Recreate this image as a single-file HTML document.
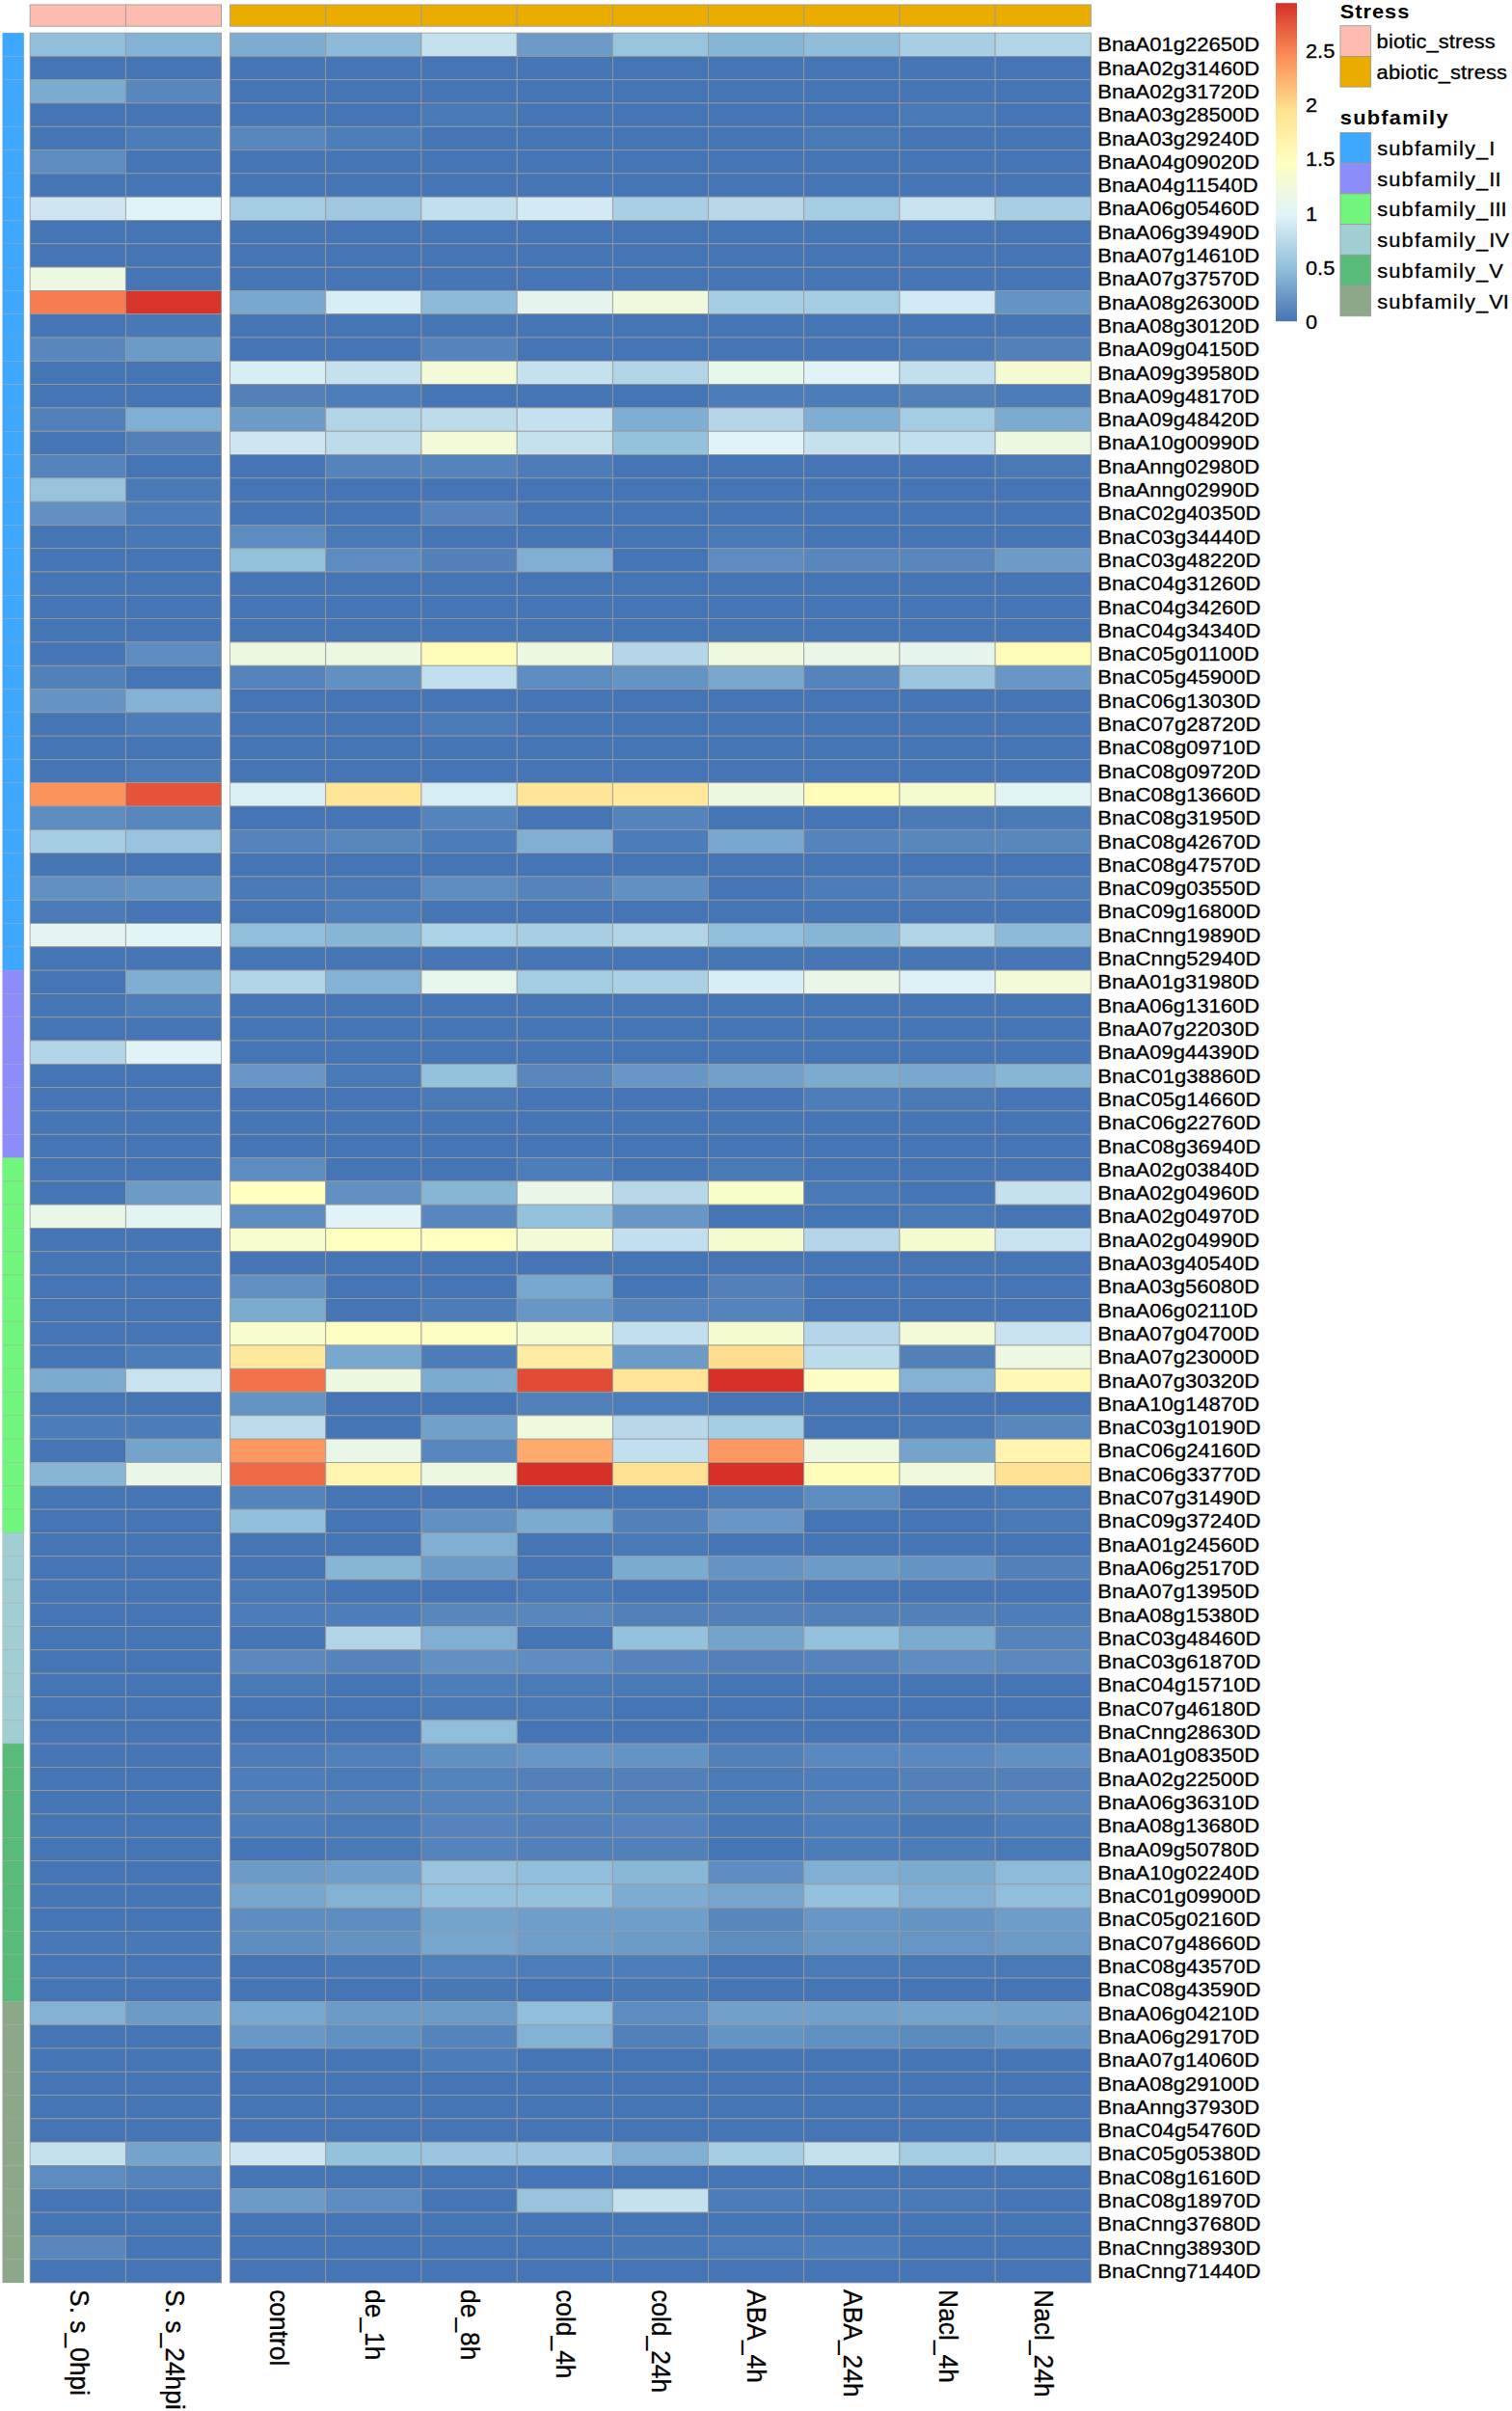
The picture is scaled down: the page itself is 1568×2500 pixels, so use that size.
<!DOCTYPE html>
<html lang="en"><head><meta charset="utf-8"><title>Heatmap</title>
<style>html,body{margin:0;padding:0;background:#fff}svg{display:block}</style></head>
<body>
<svg width="1568" height="2500" viewBox="0 0 1568 2500" font-family='"Liberation Sans", Arial, Helvetica, sans-serif' fill="#000">
<rect width="1568" height="2500" fill="#fff"/>
<g stroke="#999999" stroke-width="0.8">
<rect x="31.10" y="4.9" width="99.25" height="22.30" fill="#fdbcaf"/>
<rect x="130.35" y="4.9" width="99.25" height="22.30" fill="#fdbcaf"/>
<rect x="238.60" y="4.9" width="99.19" height="22.30" fill="#ebac00"/>
<rect x="337.79" y="4.9" width="99.19" height="22.30" fill="#ebac00"/>
<rect x="436.98" y="4.9" width="99.19" height="22.30" fill="#ebac00"/>
<rect x="536.17" y="4.9" width="99.19" height="22.30" fill="#ebac00"/>
<rect x="635.36" y="4.9" width="99.19" height="22.30" fill="#ebac00"/>
<rect x="734.54" y="4.9" width="99.19" height="22.30" fill="#ebac00"/>
<rect x="833.73" y="4.9" width="99.19" height="22.30" fill="#ebac00"/>
<rect x="932.92" y="4.9" width="99.19" height="22.30" fill="#ebac00"/>
<rect x="1032.11" y="4.9" width="99.19" height="22.30" fill="#ebac00"/>
</g>
<g stroke="#999999" stroke-opacity="0.45" stroke-width="0.6">
<rect x="2.7" y="34.10" width="22.10" height="24.301" fill="#3ea7ff"/>
<rect x="2.7" y="58.40" width="22.10" height="24.301" fill="#3ea7ff"/>
<rect x="2.7" y="82.70" width="22.10" height="24.301" fill="#3ea7ff"/>
<rect x="2.7" y="107.00" width="22.10" height="24.301" fill="#3ea7ff"/>
<rect x="2.7" y="131.30" width="22.10" height="24.301" fill="#3ea7ff"/>
<rect x="2.7" y="155.61" width="22.10" height="24.301" fill="#3ea7ff"/>
<rect x="2.7" y="179.91" width="22.10" height="24.301" fill="#3ea7ff"/>
<rect x="2.7" y="204.21" width="22.10" height="24.301" fill="#3ea7ff"/>
<rect x="2.7" y="228.51" width="22.10" height="24.301" fill="#3ea7ff"/>
<rect x="2.7" y="252.81" width="22.10" height="24.301" fill="#3ea7ff"/>
<rect x="2.7" y="277.11" width="22.10" height="24.301" fill="#3ea7ff"/>
<rect x="2.7" y="301.41" width="22.10" height="24.301" fill="#3ea7ff"/>
<rect x="2.7" y="325.71" width="22.10" height="24.301" fill="#3ea7ff"/>
<rect x="2.7" y="350.01" width="22.10" height="24.301" fill="#3ea7ff"/>
<rect x="2.7" y="374.31" width="22.10" height="24.301" fill="#3ea7ff"/>
<rect x="2.7" y="398.62" width="22.10" height="24.301" fill="#3ea7ff"/>
<rect x="2.7" y="422.92" width="22.10" height="24.301" fill="#3ea7ff"/>
<rect x="2.7" y="447.22" width="22.10" height="24.301" fill="#3ea7ff"/>
<rect x="2.7" y="471.52" width="22.10" height="24.301" fill="#3ea7ff"/>
<rect x="2.7" y="495.82" width="22.10" height="24.301" fill="#3ea7ff"/>
<rect x="2.7" y="520.12" width="22.10" height="24.301" fill="#3ea7ff"/>
<rect x="2.7" y="544.42" width="22.10" height="24.301" fill="#3ea7ff"/>
<rect x="2.7" y="568.72" width="22.10" height="24.301" fill="#3ea7ff"/>
<rect x="2.7" y="593.02" width="22.10" height="24.301" fill="#3ea7ff"/>
<rect x="2.7" y="617.33" width="22.10" height="24.301" fill="#3ea7ff"/>
<rect x="2.7" y="641.63" width="22.10" height="24.301" fill="#3ea7ff"/>
<rect x="2.7" y="665.93" width="22.10" height="24.301" fill="#3ea7ff"/>
<rect x="2.7" y="690.23" width="22.10" height="24.301" fill="#3ea7ff"/>
<rect x="2.7" y="714.53" width="22.10" height="24.301" fill="#3ea7ff"/>
<rect x="2.7" y="738.83" width="22.10" height="24.301" fill="#3ea7ff"/>
<rect x="2.7" y="763.13" width="22.10" height="24.301" fill="#3ea7ff"/>
<rect x="2.7" y="787.43" width="22.10" height="24.301" fill="#3ea7ff"/>
<rect x="2.7" y="811.73" width="22.10" height="24.301" fill="#3ea7ff"/>
<rect x="2.7" y="836.03" width="22.10" height="24.301" fill="#3ea7ff"/>
<rect x="2.7" y="860.34" width="22.10" height="24.301" fill="#3ea7ff"/>
<rect x="2.7" y="884.64" width="22.10" height="24.301" fill="#3ea7ff"/>
<rect x="2.7" y="908.94" width="22.10" height="24.301" fill="#3ea7ff"/>
<rect x="2.7" y="933.24" width="22.10" height="24.301" fill="#3ea7ff"/>
<rect x="2.7" y="957.54" width="22.10" height="24.301" fill="#3ea7ff"/>
<rect x="2.7" y="981.84" width="22.10" height="24.301" fill="#3ea7ff"/>
<rect x="2.7" y="1006.14" width="22.10" height="24.301" fill="#8c8cfa"/>
<rect x="2.7" y="1030.44" width="22.10" height="24.301" fill="#8c8cfa"/>
<rect x="2.7" y="1054.74" width="22.10" height="24.301" fill="#8c8cfa"/>
<rect x="2.7" y="1079.04" width="22.10" height="24.301" fill="#8c8cfa"/>
<rect x="2.7" y="1103.35" width="22.10" height="24.301" fill="#8c8cfa"/>
<rect x="2.7" y="1127.65" width="22.10" height="24.301" fill="#8c8cfa"/>
<rect x="2.7" y="1151.95" width="22.10" height="24.301" fill="#8c8cfa"/>
<rect x="2.7" y="1176.25" width="22.10" height="24.301" fill="#8c8cfa"/>
<rect x="2.7" y="1200.55" width="22.10" height="24.301" fill="#70f57d"/>
<rect x="2.7" y="1224.85" width="22.10" height="24.301" fill="#70f57d"/>
<rect x="2.7" y="1249.15" width="22.10" height="24.301" fill="#70f57d"/>
<rect x="2.7" y="1273.45" width="22.10" height="24.301" fill="#70f57d"/>
<rect x="2.7" y="1297.75" width="22.10" height="24.301" fill="#70f57d"/>
<rect x="2.7" y="1322.06" width="22.10" height="24.301" fill="#70f57d"/>
<rect x="2.7" y="1346.36" width="22.10" height="24.301" fill="#70f57d"/>
<rect x="2.7" y="1370.66" width="22.10" height="24.301" fill="#70f57d"/>
<rect x="2.7" y="1394.96" width="22.10" height="24.301" fill="#70f57d"/>
<rect x="2.7" y="1419.26" width="22.10" height="24.301" fill="#70f57d"/>
<rect x="2.7" y="1443.56" width="22.10" height="24.301" fill="#70f57d"/>
<rect x="2.7" y="1467.86" width="22.10" height="24.301" fill="#70f57d"/>
<rect x="2.7" y="1492.16" width="22.10" height="24.301" fill="#70f57d"/>
<rect x="2.7" y="1516.46" width="22.10" height="24.301" fill="#70f57d"/>
<rect x="2.7" y="1540.76" width="22.10" height="24.301" fill="#70f57d"/>
<rect x="2.7" y="1565.07" width="22.10" height="24.301" fill="#70f57d"/>
<rect x="2.7" y="1589.37" width="22.10" height="24.301" fill="#a0ced3"/>
<rect x="2.7" y="1613.67" width="22.10" height="24.301" fill="#a0ced3"/>
<rect x="2.7" y="1637.97" width="22.10" height="24.301" fill="#a0ced3"/>
<rect x="2.7" y="1662.27" width="22.10" height="24.301" fill="#a0ced3"/>
<rect x="2.7" y="1686.57" width="22.10" height="24.301" fill="#a0ced3"/>
<rect x="2.7" y="1710.87" width="22.10" height="24.301" fill="#a0ced3"/>
<rect x="2.7" y="1735.17" width="22.10" height="24.301" fill="#a0ced3"/>
<rect x="2.7" y="1759.47" width="22.10" height="24.301" fill="#a0ced3"/>
<rect x="2.7" y="1783.77" width="22.10" height="24.301" fill="#a0ced3"/>
<rect x="2.7" y="1808.08" width="22.10" height="24.301" fill="#58bb7a"/>
<rect x="2.7" y="1832.38" width="22.10" height="24.301" fill="#58bb7a"/>
<rect x="2.7" y="1856.68" width="22.10" height="24.301" fill="#58bb7a"/>
<rect x="2.7" y="1880.98" width="22.10" height="24.301" fill="#58bb7a"/>
<rect x="2.7" y="1905.28" width="22.10" height="24.301" fill="#58bb7a"/>
<rect x="2.7" y="1929.58" width="22.10" height="24.301" fill="#58bb7a"/>
<rect x="2.7" y="1953.88" width="22.10" height="24.301" fill="#58bb7a"/>
<rect x="2.7" y="1978.18" width="22.10" height="24.301" fill="#58bb7a"/>
<rect x="2.7" y="2002.48" width="22.10" height="24.301" fill="#58bb7a"/>
<rect x="2.7" y="2026.79" width="22.10" height="24.301" fill="#58bb7a"/>
<rect x="2.7" y="2051.09" width="22.10" height="24.301" fill="#58bb7a"/>
<rect x="2.7" y="2075.39" width="22.10" height="24.301" fill="#8ca889"/>
<rect x="2.7" y="2099.69" width="22.10" height="24.301" fill="#8ca889"/>
<rect x="2.7" y="2123.99" width="22.10" height="24.301" fill="#8ca889"/>
<rect x="2.7" y="2148.29" width="22.10" height="24.301" fill="#8ca889"/>
<rect x="2.7" y="2172.59" width="22.10" height="24.301" fill="#8ca889"/>
<rect x="2.7" y="2196.89" width="22.10" height="24.301" fill="#8ca889"/>
<rect x="2.7" y="2221.19" width="22.10" height="24.301" fill="#8ca889"/>
<rect x="2.7" y="2245.49" width="22.10" height="24.301" fill="#8ca889"/>
<rect x="2.7" y="2269.80" width="22.10" height="24.301" fill="#8ca889"/>
<rect x="2.7" y="2294.10" width="22.10" height="24.301" fill="#8ca889"/>
<rect x="2.7" y="2318.40" width="22.10" height="24.301" fill="#8ca889"/>
<rect x="2.7" y="2342.70" width="22.10" height="24.301" fill="#8ca889"/>
</g>
<g stroke="#999999" stroke-width="0.8">
<rect x="31.10" y="34.10" width="99.25" height="24.301" fill="#90bedb"/>
<rect x="130.35" y="34.10" width="99.25" height="24.301" fill="#84b2d4"/>
<rect x="238.60" y="34.10" width="99.19" height="24.301" fill="#7eacd1"/>
<rect x="337.79" y="34.10" width="99.19" height="24.301" fill="#8cbad8"/>
<rect x="436.98" y="34.10" width="99.19" height="24.301" fill="#c5e1ee"/>
<rect x="536.17" y="34.10" width="99.19" height="24.301" fill="#6c9bc8"/>
<rect x="635.36" y="34.10" width="99.19" height="24.301" fill="#97c3dd"/>
<rect x="734.54" y="34.10" width="99.19" height="24.301" fill="#87b5d6"/>
<rect x="833.73" y="34.10" width="99.19" height="24.301" fill="#8fbdda"/>
<rect x="932.92" y="34.10" width="99.19" height="24.301" fill="#a7cee3"/>
<rect x="1032.11" y="34.10" width="99.19" height="24.301" fill="#b1d4e7"/>
<rect x="31.10" y="58.40" width="99.25" height="24.301" fill="#4575b4"/>
<rect x="130.35" y="58.40" width="99.25" height="24.301" fill="#4575b4"/>
<rect x="238.60" y="58.40" width="99.19" height="24.301" fill="#4575b4"/>
<rect x="337.79" y="58.40" width="99.19" height="24.301" fill="#4575b4"/>
<rect x="436.98" y="58.40" width="99.19" height="24.301" fill="#4575b4"/>
<rect x="536.17" y="58.40" width="99.19" height="24.301" fill="#4575b4"/>
<rect x="635.36" y="58.40" width="99.19" height="24.301" fill="#4575b4"/>
<rect x="734.54" y="58.40" width="99.19" height="24.301" fill="#4575b4"/>
<rect x="833.73" y="58.40" width="99.19" height="24.301" fill="#4575b4"/>
<rect x="932.92" y="58.40" width="99.19" height="24.301" fill="#4575b4"/>
<rect x="1032.11" y="58.40" width="99.19" height="24.301" fill="#4575b4"/>
<rect x="31.10" y="82.70" width="99.25" height="24.301" fill="#7cabd0"/>
<rect x="130.35" y="82.70" width="99.25" height="24.301" fill="#5887be"/>
<rect x="238.60" y="82.70" width="99.19" height="24.301" fill="#4575b4"/>
<rect x="337.79" y="82.70" width="99.19" height="24.301" fill="#4575b4"/>
<rect x="436.98" y="82.70" width="99.19" height="24.301" fill="#4575b4"/>
<rect x="536.17" y="82.70" width="99.19" height="24.301" fill="#4575b4"/>
<rect x="635.36" y="82.70" width="99.19" height="24.301" fill="#4575b4"/>
<rect x="734.54" y="82.70" width="99.19" height="24.301" fill="#4575b4"/>
<rect x="833.73" y="82.70" width="99.19" height="24.301" fill="#4575b4"/>
<rect x="932.92" y="82.70" width="99.19" height="24.301" fill="#4575b4"/>
<rect x="1032.11" y="82.70" width="99.19" height="24.301" fill="#4575b4"/>
<rect x="31.10" y="107.00" width="99.25" height="24.301" fill="#4575b4"/>
<rect x="130.35" y="107.00" width="99.25" height="24.301" fill="#4575b4"/>
<rect x="238.60" y="107.00" width="99.19" height="24.301" fill="#4575b4"/>
<rect x="337.79" y="107.00" width="99.19" height="24.301" fill="#4575b4"/>
<rect x="436.98" y="107.00" width="99.19" height="24.301" fill="#4a7ab6"/>
<rect x="536.17" y="107.00" width="99.19" height="24.301" fill="#4575b4"/>
<rect x="635.36" y="107.00" width="99.19" height="24.301" fill="#4575b4"/>
<rect x="734.54" y="107.00" width="99.19" height="24.301" fill="#4575b4"/>
<rect x="833.73" y="107.00" width="99.19" height="24.301" fill="#4575b4"/>
<rect x="932.92" y="107.00" width="99.19" height="24.301" fill="#4a7ab6"/>
<rect x="1032.11" y="107.00" width="99.19" height="24.301" fill="#4575b4"/>
<rect x="31.10" y="131.30" width="99.25" height="24.301" fill="#4575b4"/>
<rect x="130.35" y="131.30" width="99.25" height="24.301" fill="#4d7db8"/>
<rect x="238.60" y="131.30" width="99.19" height="24.301" fill="#5887be"/>
<rect x="337.79" y="131.30" width="99.19" height="24.301" fill="#4e7eb9"/>
<rect x="436.98" y="131.30" width="99.19" height="24.301" fill="#4575b4"/>
<rect x="536.17" y="131.30" width="99.19" height="24.301" fill="#4575b4"/>
<rect x="635.36" y="131.30" width="99.19" height="24.301" fill="#4575b4"/>
<rect x="734.54" y="131.30" width="99.19" height="24.301" fill="#4575b4"/>
<rect x="833.73" y="131.30" width="99.19" height="24.301" fill="#4a7ab6"/>
<rect x="932.92" y="131.30" width="99.19" height="24.301" fill="#4575b4"/>
<rect x="1032.11" y="131.30" width="99.19" height="24.301" fill="#4575b4"/>
<rect x="31.10" y="155.61" width="99.25" height="24.301" fill="#5d8cc0"/>
<rect x="130.35" y="155.61" width="99.25" height="24.301" fill="#4575b4"/>
<rect x="238.60" y="155.61" width="99.19" height="24.301" fill="#4575b4"/>
<rect x="337.79" y="155.61" width="99.19" height="24.301" fill="#4575b4"/>
<rect x="436.98" y="155.61" width="99.19" height="24.301" fill="#4575b4"/>
<rect x="536.17" y="155.61" width="99.19" height="24.301" fill="#4575b4"/>
<rect x="635.36" y="155.61" width="99.19" height="24.301" fill="#4575b4"/>
<rect x="734.54" y="155.61" width="99.19" height="24.301" fill="#4575b4"/>
<rect x="833.73" y="155.61" width="99.19" height="24.301" fill="#4575b4"/>
<rect x="932.92" y="155.61" width="99.19" height="24.301" fill="#4575b4"/>
<rect x="1032.11" y="155.61" width="99.19" height="24.301" fill="#4575b4"/>
<rect x="31.10" y="179.91" width="99.25" height="24.301" fill="#4575b4"/>
<rect x="130.35" y="179.91" width="99.25" height="24.301" fill="#4575b4"/>
<rect x="238.60" y="179.91" width="99.19" height="24.301" fill="#4575b4"/>
<rect x="337.79" y="179.91" width="99.19" height="24.301" fill="#4575b4"/>
<rect x="436.98" y="179.91" width="99.19" height="24.301" fill="#4575b4"/>
<rect x="536.17" y="179.91" width="99.19" height="24.301" fill="#4575b4"/>
<rect x="635.36" y="179.91" width="99.19" height="24.301" fill="#4575b4"/>
<rect x="734.54" y="179.91" width="99.19" height="24.301" fill="#4575b4"/>
<rect x="833.73" y="179.91" width="99.19" height="24.301" fill="#4575b4"/>
<rect x="932.92" y="179.91" width="99.19" height="24.301" fill="#4575b4"/>
<rect x="1032.11" y="179.91" width="99.19" height="24.301" fill="#4575b4"/>
<rect x="31.10" y="204.21" width="99.25" height="24.301" fill="#cde6f1"/>
<rect x="130.35" y="204.21" width="99.25" height="24.301" fill="#e1f3f6"/>
<rect x="238.60" y="204.21" width="99.19" height="24.301" fill="#a4cce2"/>
<rect x="337.79" y="204.21" width="99.19" height="24.301" fill="#9fc8e0"/>
<rect x="436.98" y="204.21" width="99.19" height="24.301" fill="#c1dfed"/>
<rect x="536.17" y="204.21" width="99.19" height="24.301" fill="#d2eaf3"/>
<rect x="635.36" y="204.21" width="99.19" height="24.301" fill="#a9cfe4"/>
<rect x="734.54" y="204.21" width="99.19" height="24.301" fill="#b8d8e9"/>
<rect x="833.73" y="204.21" width="99.19" height="24.301" fill="#a4cce2"/>
<rect x="932.92" y="204.21" width="99.19" height="24.301" fill="#c8e3ef"/>
<rect x="1032.11" y="204.21" width="99.19" height="24.301" fill="#a7cee3"/>
<rect x="31.10" y="228.51" width="99.25" height="24.301" fill="#4575b4"/>
<rect x="130.35" y="228.51" width="99.25" height="24.301" fill="#4575b4"/>
<rect x="238.60" y="228.51" width="99.19" height="24.301" fill="#4575b4"/>
<rect x="337.79" y="228.51" width="99.19" height="24.301" fill="#4575b4"/>
<rect x="436.98" y="228.51" width="99.19" height="24.301" fill="#4575b4"/>
<rect x="536.17" y="228.51" width="99.19" height="24.301" fill="#4575b4"/>
<rect x="635.36" y="228.51" width="99.19" height="24.301" fill="#4575b4"/>
<rect x="734.54" y="228.51" width="99.19" height="24.301" fill="#4575b4"/>
<rect x="833.73" y="228.51" width="99.19" height="24.301" fill="#4575b4"/>
<rect x="932.92" y="228.51" width="99.19" height="24.301" fill="#4575b4"/>
<rect x="1032.11" y="228.51" width="99.19" height="24.301" fill="#4575b4"/>
<rect x="31.10" y="252.81" width="99.25" height="24.301" fill="#4575b4"/>
<rect x="130.35" y="252.81" width="99.25" height="24.301" fill="#4575b4"/>
<rect x="238.60" y="252.81" width="99.19" height="24.301" fill="#4575b4"/>
<rect x="337.79" y="252.81" width="99.19" height="24.301" fill="#4575b4"/>
<rect x="436.98" y="252.81" width="99.19" height="24.301" fill="#4575b4"/>
<rect x="536.17" y="252.81" width="99.19" height="24.301" fill="#4575b4"/>
<rect x="635.36" y="252.81" width="99.19" height="24.301" fill="#4575b4"/>
<rect x="734.54" y="252.81" width="99.19" height="24.301" fill="#4575b4"/>
<rect x="833.73" y="252.81" width="99.19" height="24.301" fill="#4575b4"/>
<rect x="932.92" y="252.81" width="99.19" height="24.301" fill="#4575b4"/>
<rect x="1032.11" y="252.81" width="99.19" height="24.301" fill="#4575b4"/>
<rect x="31.10" y="277.11" width="99.25" height="24.301" fill="#ecf8e2"/>
<rect x="130.35" y="277.11" width="99.25" height="24.301" fill="#4575b4"/>
<rect x="238.60" y="277.11" width="99.19" height="24.301" fill="#4575b4"/>
<rect x="337.79" y="277.11" width="99.19" height="24.301" fill="#4575b4"/>
<rect x="436.98" y="277.11" width="99.19" height="24.301" fill="#4575b4"/>
<rect x="536.17" y="277.11" width="99.19" height="24.301" fill="#4575b4"/>
<rect x="635.36" y="277.11" width="99.19" height="24.301" fill="#4575b4"/>
<rect x="734.54" y="277.11" width="99.19" height="24.301" fill="#4575b4"/>
<rect x="833.73" y="277.11" width="99.19" height="24.301" fill="#4575b4"/>
<rect x="932.92" y="277.11" width="99.19" height="24.301" fill="#4575b4"/>
<rect x="1032.11" y="277.11" width="99.19" height="24.301" fill="#4575b4"/>
<rect x="31.10" y="301.41" width="99.25" height="24.301" fill="#f67d50"/>
<rect x="130.35" y="301.41" width="99.25" height="24.301" fill="#d93429"/>
<rect x="238.60" y="301.41" width="99.19" height="24.301" fill="#79a8cf"/>
<rect x="337.79" y="301.41" width="99.19" height="24.301" fill="#d8eef5"/>
<rect x="436.98" y="301.41" width="99.19" height="24.301" fill="#8cbad8"/>
<rect x="536.17" y="301.41" width="99.19" height="24.301" fill="#e5f5ee"/>
<rect x="635.36" y="301.41" width="99.19" height="24.301" fill="#eff9dc"/>
<rect x="734.54" y="301.41" width="99.19" height="24.301" fill="#a4cce2"/>
<rect x="833.73" y="301.41" width="99.19" height="24.301" fill="#a4cce2"/>
<rect x="932.92" y="301.41" width="99.19" height="24.301" fill="#d2eaf3"/>
<rect x="1032.11" y="301.41" width="99.19" height="24.301" fill="#6494c4"/>
<rect x="31.10" y="325.71" width="99.25" height="24.301" fill="#4575b4"/>
<rect x="130.35" y="325.71" width="99.25" height="24.301" fill="#4878b6"/>
<rect x="238.60" y="325.71" width="99.19" height="24.301" fill="#4575b4"/>
<rect x="337.79" y="325.71" width="99.19" height="24.301" fill="#4575b4"/>
<rect x="436.98" y="325.71" width="99.19" height="24.301" fill="#4575b4"/>
<rect x="536.17" y="325.71" width="99.19" height="24.301" fill="#4575b4"/>
<rect x="635.36" y="325.71" width="99.19" height="24.301" fill="#4575b4"/>
<rect x="734.54" y="325.71" width="99.19" height="24.301" fill="#4575b4"/>
<rect x="833.73" y="325.71" width="99.19" height="24.301" fill="#4575b4"/>
<rect x="932.92" y="325.71" width="99.19" height="24.301" fill="#4575b4"/>
<rect x="1032.11" y="325.71" width="99.19" height="24.301" fill="#4575b4"/>
<rect x="31.10" y="350.01" width="99.25" height="24.301" fill="#5887be"/>
<rect x="130.35" y="350.01" width="99.25" height="24.301" fill="#6c9bc8"/>
<rect x="238.60" y="350.01" width="99.19" height="24.301" fill="#4575b4"/>
<rect x="337.79" y="350.01" width="99.19" height="24.301" fill="#4575b4"/>
<rect x="436.98" y="350.01" width="99.19" height="24.301" fill="#5584bc"/>
<rect x="536.17" y="350.01" width="99.19" height="24.301" fill="#4575b4"/>
<rect x="635.36" y="350.01" width="99.19" height="24.301" fill="#4575b4"/>
<rect x="734.54" y="350.01" width="99.19" height="24.301" fill="#4575b4"/>
<rect x="833.73" y="350.01" width="99.19" height="24.301" fill="#4575b4"/>
<rect x="932.92" y="350.01" width="99.19" height="24.301" fill="#4a7ab6"/>
<rect x="1032.11" y="350.01" width="99.19" height="24.301" fill="#5281ba"/>
<rect x="31.10" y="374.31" width="99.25" height="24.301" fill="#4575b4"/>
<rect x="130.35" y="374.31" width="99.25" height="24.301" fill="#4575b4"/>
<rect x="238.60" y="374.31" width="99.19" height="24.301" fill="#d8eef5"/>
<rect x="337.79" y="374.31" width="99.19" height="24.301" fill="#c5e1ee"/>
<rect x="436.98" y="374.31" width="99.19" height="24.301" fill="#f2fad7"/>
<rect x="536.17" y="374.31" width="99.19" height="24.301" fill="#c5e1ee"/>
<rect x="635.36" y="374.31" width="99.19" height="24.301" fill="#b1d4e7"/>
<rect x="734.54" y="374.31" width="99.19" height="24.301" fill="#e7f6eb"/>
<rect x="833.73" y="374.31" width="99.19" height="24.301" fill="#e1f3f6"/>
<rect x="932.92" y="374.31" width="99.19" height="24.301" fill="#c1dfed"/>
<rect x="1032.11" y="374.31" width="99.19" height="24.301" fill="#f4fbd3"/>
<rect x="31.10" y="398.62" width="99.25" height="24.301" fill="#4575b4"/>
<rect x="130.35" y="398.62" width="99.25" height="24.301" fill="#4575b4"/>
<rect x="238.60" y="398.62" width="99.19" height="24.301" fill="#5281ba"/>
<rect x="337.79" y="398.62" width="99.19" height="24.301" fill="#4e7eb9"/>
<rect x="436.98" y="398.62" width="99.19" height="24.301" fill="#4575b4"/>
<rect x="536.17" y="398.62" width="99.19" height="24.301" fill="#4575b4"/>
<rect x="635.36" y="398.62" width="99.19" height="24.301" fill="#4575b4"/>
<rect x="734.54" y="398.62" width="99.19" height="24.301" fill="#4d7db8"/>
<rect x="833.73" y="398.62" width="99.19" height="24.301" fill="#4d7db8"/>
<rect x="932.92" y="398.62" width="99.19" height="24.301" fill="#5281ba"/>
<rect x="1032.11" y="398.62" width="99.19" height="24.301" fill="#4d7db8"/>
<rect x="31.10" y="422.92" width="99.25" height="24.301" fill="#5281ba"/>
<rect x="130.35" y="422.92" width="99.25" height="24.301" fill="#81afd3"/>
<rect x="238.60" y="422.92" width="99.19" height="24.301" fill="#6c9bc8"/>
<rect x="337.79" y="422.92" width="99.19" height="24.301" fill="#b1d4e7"/>
<rect x="436.98" y="422.92" width="99.19" height="24.301" fill="#bddceb"/>
<rect x="536.17" y="422.92" width="99.19" height="24.301" fill="#c5e1ee"/>
<rect x="635.36" y="422.92" width="99.19" height="24.301" fill="#7faed2"/>
<rect x="734.54" y="422.92" width="99.19" height="24.301" fill="#b4d6e8"/>
<rect x="833.73" y="422.92" width="99.19" height="24.301" fill="#7faed2"/>
<rect x="932.92" y="422.92" width="99.19" height="24.301" fill="#a4cce2"/>
<rect x="1032.11" y="422.92" width="99.19" height="24.301" fill="#7cabd0"/>
<rect x="31.10" y="447.22" width="99.25" height="24.301" fill="#4575b4"/>
<rect x="130.35" y="447.22" width="99.25" height="24.301" fill="#5281ba"/>
<rect x="238.60" y="447.22" width="99.19" height="24.301" fill="#cde6f1"/>
<rect x="337.79" y="447.22" width="99.19" height="24.301" fill="#bddceb"/>
<rect x="436.98" y="447.22" width="99.19" height="24.301" fill="#f2fad7"/>
<rect x="536.17" y="447.22" width="99.19" height="24.301" fill="#c5e1ee"/>
<rect x="635.36" y="447.22" width="99.19" height="24.301" fill="#94c1dc"/>
<rect x="734.54" y="447.22" width="99.19" height="24.301" fill="#e1f3f6"/>
<rect x="833.73" y="447.22" width="99.19" height="24.301" fill="#c5e1ee"/>
<rect x="932.92" y="447.22" width="99.19" height="24.301" fill="#c1dfed"/>
<rect x="1032.11" y="447.22" width="99.19" height="24.301" fill="#ecf8e2"/>
<rect x="31.10" y="471.52" width="99.25" height="24.301" fill="#5584bc"/>
<rect x="130.35" y="471.52" width="99.25" height="24.301" fill="#4575b4"/>
<rect x="238.60" y="471.52" width="99.19" height="24.301" fill="#4575b4"/>
<rect x="337.79" y="471.52" width="99.19" height="24.301" fill="#5584bc"/>
<rect x="436.98" y="471.52" width="99.19" height="24.301" fill="#5584bc"/>
<rect x="536.17" y="471.52" width="99.19" height="24.301" fill="#4d7db8"/>
<rect x="635.36" y="471.52" width="99.19" height="24.301" fill="#4575b4"/>
<rect x="734.54" y="471.52" width="99.19" height="24.301" fill="#4575b4"/>
<rect x="833.73" y="471.52" width="99.19" height="24.301" fill="#4575b4"/>
<rect x="932.92" y="471.52" width="99.19" height="24.301" fill="#4575b4"/>
<rect x="1032.11" y="471.52" width="99.19" height="24.301" fill="#4a7ab6"/>
<rect x="31.10" y="495.82" width="99.25" height="24.301" fill="#97c3dd"/>
<rect x="130.35" y="495.82" width="99.25" height="24.301" fill="#4a7ab6"/>
<rect x="238.60" y="495.82" width="99.19" height="24.301" fill="#4575b4"/>
<rect x="337.79" y="495.82" width="99.19" height="24.301" fill="#4575b4"/>
<rect x="436.98" y="495.82" width="99.19" height="24.301" fill="#4575b4"/>
<rect x="536.17" y="495.82" width="99.19" height="24.301" fill="#4575b4"/>
<rect x="635.36" y="495.82" width="99.19" height="24.301" fill="#4575b4"/>
<rect x="734.54" y="495.82" width="99.19" height="24.301" fill="#4575b4"/>
<rect x="833.73" y="495.82" width="99.19" height="24.301" fill="#4575b4"/>
<rect x="932.92" y="495.82" width="99.19" height="24.301" fill="#4575b4"/>
<rect x="1032.11" y="495.82" width="99.19" height="24.301" fill="#4575b4"/>
<rect x="31.10" y="520.12" width="99.25" height="24.301" fill="#6191c3"/>
<rect x="130.35" y="520.12" width="99.25" height="24.301" fill="#4d7db8"/>
<rect x="238.60" y="520.12" width="99.19" height="24.301" fill="#4575b4"/>
<rect x="337.79" y="520.12" width="99.19" height="24.301" fill="#4575b4"/>
<rect x="436.98" y="520.12" width="99.19" height="24.301" fill="#5584bc"/>
<rect x="536.17" y="520.12" width="99.19" height="24.301" fill="#4575b4"/>
<rect x="635.36" y="520.12" width="99.19" height="24.301" fill="#4575b4"/>
<rect x="734.54" y="520.12" width="99.19" height="24.301" fill="#4575b4"/>
<rect x="833.73" y="520.12" width="99.19" height="24.301" fill="#4575b4"/>
<rect x="932.92" y="520.12" width="99.19" height="24.301" fill="#4575b4"/>
<rect x="1032.11" y="520.12" width="99.19" height="24.301" fill="#4575b4"/>
<rect x="31.10" y="544.42" width="99.25" height="24.301" fill="#4575b4"/>
<rect x="130.35" y="544.42" width="99.25" height="24.301" fill="#4878b6"/>
<rect x="238.60" y="544.42" width="99.19" height="24.301" fill="#5d8cc0"/>
<rect x="337.79" y="544.42" width="99.19" height="24.301" fill="#4a7ab6"/>
<rect x="436.98" y="544.42" width="99.19" height="24.301" fill="#4575b4"/>
<rect x="536.17" y="544.42" width="99.19" height="24.301" fill="#4575b4"/>
<rect x="635.36" y="544.42" width="99.19" height="24.301" fill="#4575b4"/>
<rect x="734.54" y="544.42" width="99.19" height="24.301" fill="#4a7ab6"/>
<rect x="833.73" y="544.42" width="99.19" height="24.301" fill="#4575b4"/>
<rect x="932.92" y="544.42" width="99.19" height="24.301" fill="#4575b4"/>
<rect x="1032.11" y="544.42" width="99.19" height="24.301" fill="#4575b4"/>
<rect x="31.10" y="568.72" width="99.25" height="24.301" fill="#4575b4"/>
<rect x="130.35" y="568.72" width="99.25" height="24.301" fill="#4575b4"/>
<rect x="238.60" y="568.72" width="99.19" height="24.301" fill="#94c1dc"/>
<rect x="337.79" y="568.72" width="99.19" height="24.301" fill="#5d8cc0"/>
<rect x="436.98" y="568.72" width="99.19" height="24.301" fill="#5281ba"/>
<rect x="536.17" y="568.72" width="99.19" height="24.301" fill="#81afd3"/>
<rect x="635.36" y="568.72" width="99.19" height="24.301" fill="#4575b4"/>
<rect x="734.54" y="568.72" width="99.19" height="24.301" fill="#5d8cc0"/>
<rect x="833.73" y="568.72" width="99.19" height="24.301" fill="#5887be"/>
<rect x="932.92" y="568.72" width="99.19" height="24.301" fill="#5887be"/>
<rect x="1032.11" y="568.72" width="99.19" height="24.301" fill="#6c9bc8"/>
<rect x="31.10" y="593.02" width="99.25" height="24.301" fill="#4575b4"/>
<rect x="130.35" y="593.02" width="99.25" height="24.301" fill="#4575b4"/>
<rect x="238.60" y="593.02" width="99.19" height="24.301" fill="#4575b4"/>
<rect x="337.79" y="593.02" width="99.19" height="24.301" fill="#4575b4"/>
<rect x="436.98" y="593.02" width="99.19" height="24.301" fill="#4575b4"/>
<rect x="536.17" y="593.02" width="99.19" height="24.301" fill="#4575b4"/>
<rect x="635.36" y="593.02" width="99.19" height="24.301" fill="#4575b4"/>
<rect x="734.54" y="593.02" width="99.19" height="24.301" fill="#4575b4"/>
<rect x="833.73" y="593.02" width="99.19" height="24.301" fill="#4575b4"/>
<rect x="932.92" y="593.02" width="99.19" height="24.301" fill="#4575b4"/>
<rect x="1032.11" y="593.02" width="99.19" height="24.301" fill="#4575b4"/>
<rect x="31.10" y="617.33" width="99.25" height="24.301" fill="#4575b4"/>
<rect x="130.35" y="617.33" width="99.25" height="24.301" fill="#4575b4"/>
<rect x="238.60" y="617.33" width="99.19" height="24.301" fill="#4575b4"/>
<rect x="337.79" y="617.33" width="99.19" height="24.301" fill="#4575b4"/>
<rect x="436.98" y="617.33" width="99.19" height="24.301" fill="#4575b4"/>
<rect x="536.17" y="617.33" width="99.19" height="24.301" fill="#4575b4"/>
<rect x="635.36" y="617.33" width="99.19" height="24.301" fill="#4575b4"/>
<rect x="734.54" y="617.33" width="99.19" height="24.301" fill="#4575b4"/>
<rect x="833.73" y="617.33" width="99.19" height="24.301" fill="#4575b4"/>
<rect x="932.92" y="617.33" width="99.19" height="24.301" fill="#4575b4"/>
<rect x="1032.11" y="617.33" width="99.19" height="24.301" fill="#4575b4"/>
<rect x="31.10" y="641.63" width="99.25" height="24.301" fill="#4575b4"/>
<rect x="130.35" y="641.63" width="99.25" height="24.301" fill="#4575b4"/>
<rect x="238.60" y="641.63" width="99.19" height="24.301" fill="#4575b4"/>
<rect x="337.79" y="641.63" width="99.19" height="24.301" fill="#4575b4"/>
<rect x="436.98" y="641.63" width="99.19" height="24.301" fill="#4575b4"/>
<rect x="536.17" y="641.63" width="99.19" height="24.301" fill="#4575b4"/>
<rect x="635.36" y="641.63" width="99.19" height="24.301" fill="#4575b4"/>
<rect x="734.54" y="641.63" width="99.19" height="24.301" fill="#4575b4"/>
<rect x="833.73" y="641.63" width="99.19" height="24.301" fill="#4575b4"/>
<rect x="932.92" y="641.63" width="99.19" height="24.301" fill="#4575b4"/>
<rect x="1032.11" y="641.63" width="99.19" height="24.301" fill="#4575b4"/>
<rect x="31.10" y="665.93" width="99.25" height="24.301" fill="#4575b4"/>
<rect x="130.35" y="665.93" width="99.25" height="24.301" fill="#5d8cc0"/>
<rect x="238.60" y="665.93" width="99.19" height="24.301" fill="#ecf8e2"/>
<rect x="337.79" y="665.93" width="99.19" height="24.301" fill="#ecf8e2"/>
<rect x="436.98" y="665.93" width="99.19" height="24.301" fill="#fffcba"/>
<rect x="536.17" y="665.93" width="99.19" height="24.301" fill="#ecf8e2"/>
<rect x="635.36" y="665.93" width="99.19" height="24.301" fill="#b4d6e8"/>
<rect x="734.54" y="665.93" width="99.19" height="24.301" fill="#eff9dc"/>
<rect x="833.73" y="665.93" width="99.19" height="24.301" fill="#eaf7e6"/>
<rect x="932.92" y="665.93" width="99.19" height="24.301" fill="#e5f5ee"/>
<rect x="1032.11" y="665.93" width="99.19" height="24.301" fill="#fffcba"/>
<rect x="31.10" y="690.23" width="99.25" height="24.301" fill="#5281ba"/>
<rect x="130.35" y="690.23" width="99.25" height="24.301" fill="#4575b4"/>
<rect x="238.60" y="690.23" width="99.19" height="24.301" fill="#5584bc"/>
<rect x="337.79" y="690.23" width="99.19" height="24.301" fill="#6191c3"/>
<rect x="436.98" y="690.23" width="99.19" height="24.301" fill="#c1dfed"/>
<rect x="536.17" y="690.23" width="99.19" height="24.301" fill="#5d8cc0"/>
<rect x="635.36" y="690.23" width="99.19" height="24.301" fill="#6494c4"/>
<rect x="734.54" y="690.23" width="99.19" height="24.301" fill="#79a8cf"/>
<rect x="833.73" y="690.23" width="99.19" height="24.301" fill="#5584bc"/>
<rect x="932.92" y="690.23" width="99.19" height="24.301" fill="#9cc6df"/>
<rect x="1032.11" y="690.23" width="99.19" height="24.301" fill="#6897c6"/>
<rect x="31.10" y="714.53" width="99.25" height="24.301" fill="#6494c4"/>
<rect x="130.35" y="714.53" width="99.25" height="24.301" fill="#84b2d4"/>
<rect x="238.60" y="714.53" width="99.19" height="24.301" fill="#4575b4"/>
<rect x="337.79" y="714.53" width="99.19" height="24.301" fill="#4575b4"/>
<rect x="436.98" y="714.53" width="99.19" height="24.301" fill="#4575b4"/>
<rect x="536.17" y="714.53" width="99.19" height="24.301" fill="#4575b4"/>
<rect x="635.36" y="714.53" width="99.19" height="24.301" fill="#4575b4"/>
<rect x="734.54" y="714.53" width="99.19" height="24.301" fill="#4575b4"/>
<rect x="833.73" y="714.53" width="99.19" height="24.301" fill="#4575b4"/>
<rect x="932.92" y="714.53" width="99.19" height="24.301" fill="#4575b4"/>
<rect x="1032.11" y="714.53" width="99.19" height="24.301" fill="#4575b4"/>
<rect x="31.10" y="738.83" width="99.25" height="24.301" fill="#4575b4"/>
<rect x="130.35" y="738.83" width="99.25" height="24.301" fill="#4d7db8"/>
<rect x="238.60" y="738.83" width="99.19" height="24.301" fill="#4575b4"/>
<rect x="337.79" y="738.83" width="99.19" height="24.301" fill="#4575b4"/>
<rect x="436.98" y="738.83" width="99.19" height="24.301" fill="#4b7bb7"/>
<rect x="536.17" y="738.83" width="99.19" height="24.301" fill="#4575b4"/>
<rect x="635.36" y="738.83" width="99.19" height="24.301" fill="#4575b4"/>
<rect x="734.54" y="738.83" width="99.19" height="24.301" fill="#4575b4"/>
<rect x="833.73" y="738.83" width="99.19" height="24.301" fill="#4575b4"/>
<rect x="932.92" y="738.83" width="99.19" height="24.301" fill="#4575b4"/>
<rect x="1032.11" y="738.83" width="99.19" height="24.301" fill="#4575b4"/>
<rect x="31.10" y="763.13" width="99.25" height="24.301" fill="#4575b4"/>
<rect x="130.35" y="763.13" width="99.25" height="24.301" fill="#4575b4"/>
<rect x="238.60" y="763.13" width="99.19" height="24.301" fill="#4575b4"/>
<rect x="337.79" y="763.13" width="99.19" height="24.301" fill="#4575b4"/>
<rect x="436.98" y="763.13" width="99.19" height="24.301" fill="#4575b4"/>
<rect x="536.17" y="763.13" width="99.19" height="24.301" fill="#4575b4"/>
<rect x="635.36" y="763.13" width="99.19" height="24.301" fill="#4575b4"/>
<rect x="734.54" y="763.13" width="99.19" height="24.301" fill="#4575b4"/>
<rect x="833.73" y="763.13" width="99.19" height="24.301" fill="#4575b4"/>
<rect x="932.92" y="763.13" width="99.19" height="24.301" fill="#4575b4"/>
<rect x="1032.11" y="763.13" width="99.19" height="24.301" fill="#4575b4"/>
<rect x="31.10" y="787.43" width="99.25" height="24.301" fill="#4575b4"/>
<rect x="130.35" y="787.43" width="99.25" height="24.301" fill="#4b7bb7"/>
<rect x="238.60" y="787.43" width="99.19" height="24.301" fill="#4575b4"/>
<rect x="337.79" y="787.43" width="99.19" height="24.301" fill="#4575b4"/>
<rect x="436.98" y="787.43" width="99.19" height="24.301" fill="#4575b4"/>
<rect x="536.17" y="787.43" width="99.19" height="24.301" fill="#4575b4"/>
<rect x="635.36" y="787.43" width="99.19" height="24.301" fill="#4575b4"/>
<rect x="734.54" y="787.43" width="99.19" height="24.301" fill="#4575b4"/>
<rect x="833.73" y="787.43" width="99.19" height="24.301" fill="#4575b4"/>
<rect x="932.92" y="787.43" width="99.19" height="24.301" fill="#4575b4"/>
<rect x="1032.11" y="787.43" width="99.19" height="24.301" fill="#4575b4"/>
<rect x="31.10" y="811.73" width="99.25" height="24.301" fill="#fc935d"/>
<rect x="130.35" y="811.73" width="99.25" height="24.301" fill="#e5533a"/>
<rect x="238.60" y="811.73" width="99.19" height="24.301" fill="#daeff6"/>
<rect x="337.79" y="811.73" width="99.19" height="24.301" fill="#fee598"/>
<rect x="436.98" y="811.73" width="99.19" height="24.301" fill="#d5ecf4"/>
<rect x="536.17" y="811.73" width="99.19" height="24.301" fill="#fee598"/>
<rect x="635.36" y="811.73" width="99.19" height="24.301" fill="#fee99d"/>
<rect x="734.54" y="811.73" width="99.19" height="24.301" fill="#ecf8e2"/>
<rect x="833.73" y="811.73" width="99.19" height="24.301" fill="#fffcba"/>
<rect x="932.92" y="811.73" width="99.19" height="24.301" fill="#f5fbd1"/>
<rect x="1032.11" y="811.73" width="99.19" height="24.301" fill="#e2f4f4"/>
<rect x="31.10" y="836.03" width="99.25" height="24.301" fill="#5d8cc0"/>
<rect x="130.35" y="836.03" width="99.25" height="24.301" fill="#5887be"/>
<rect x="238.60" y="836.03" width="99.19" height="24.301" fill="#4575b4"/>
<rect x="337.79" y="836.03" width="99.19" height="24.301" fill="#4575b4"/>
<rect x="436.98" y="836.03" width="99.19" height="24.301" fill="#5584bc"/>
<rect x="536.17" y="836.03" width="99.19" height="24.301" fill="#4575b4"/>
<rect x="635.36" y="836.03" width="99.19" height="24.301" fill="#5584bc"/>
<rect x="734.54" y="836.03" width="99.19" height="24.301" fill="#4575b4"/>
<rect x="833.73" y="836.03" width="99.19" height="24.301" fill="#4575b4"/>
<rect x="932.92" y="836.03" width="99.19" height="24.301" fill="#4a7ab6"/>
<rect x="1032.11" y="836.03" width="99.19" height="24.301" fill="#4a7ab6"/>
<rect x="31.10" y="860.34" width="99.25" height="24.301" fill="#a4cce2"/>
<rect x="130.35" y="860.34" width="99.25" height="24.301" fill="#97c3dd"/>
<rect x="238.60" y="860.34" width="99.19" height="24.301" fill="#5584bc"/>
<rect x="337.79" y="860.34" width="99.19" height="24.301" fill="#5887be"/>
<rect x="436.98" y="860.34" width="99.19" height="24.301" fill="#4d7db8"/>
<rect x="536.17" y="860.34" width="99.19" height="24.301" fill="#81afd3"/>
<rect x="635.36" y="860.34" width="99.19" height="24.301" fill="#4d7db8"/>
<rect x="734.54" y="860.34" width="99.19" height="24.301" fill="#79a8cf"/>
<rect x="833.73" y="860.34" width="99.19" height="24.301" fill="#5584bc"/>
<rect x="932.92" y="860.34" width="99.19" height="24.301" fill="#5887be"/>
<rect x="1032.11" y="860.34" width="99.19" height="24.301" fill="#5887be"/>
<rect x="31.10" y="884.64" width="99.25" height="24.301" fill="#4575b4"/>
<rect x="130.35" y="884.64" width="99.25" height="24.301" fill="#4575b4"/>
<rect x="238.60" y="884.64" width="99.19" height="24.301" fill="#4575b4"/>
<rect x="337.79" y="884.64" width="99.19" height="24.301" fill="#4575b4"/>
<rect x="436.98" y="884.64" width="99.19" height="24.301" fill="#4575b4"/>
<rect x="536.17" y="884.64" width="99.19" height="24.301" fill="#4575b4"/>
<rect x="635.36" y="884.64" width="99.19" height="24.301" fill="#4575b4"/>
<rect x="734.54" y="884.64" width="99.19" height="24.301" fill="#4575b4"/>
<rect x="833.73" y="884.64" width="99.19" height="24.301" fill="#4575b4"/>
<rect x="932.92" y="884.64" width="99.19" height="24.301" fill="#4575b4"/>
<rect x="1032.11" y="884.64" width="99.19" height="24.301" fill="#4575b4"/>
<rect x="31.10" y="908.94" width="99.25" height="24.301" fill="#6191c3"/>
<rect x="130.35" y="908.94" width="99.25" height="24.301" fill="#6494c4"/>
<rect x="238.60" y="908.94" width="99.19" height="24.301" fill="#4a7ab6"/>
<rect x="337.79" y="908.94" width="99.19" height="24.301" fill="#4a7ab6"/>
<rect x="436.98" y="908.94" width="99.19" height="24.301" fill="#5d8cc0"/>
<rect x="536.17" y="908.94" width="99.19" height="24.301" fill="#5584bc"/>
<rect x="635.36" y="908.94" width="99.19" height="24.301" fill="#6191c3"/>
<rect x="734.54" y="908.94" width="99.19" height="24.301" fill="#4575b4"/>
<rect x="833.73" y="908.94" width="99.19" height="24.301" fill="#4d7db8"/>
<rect x="932.92" y="908.94" width="99.19" height="24.301" fill="#5281ba"/>
<rect x="1032.11" y="908.94" width="99.19" height="24.301" fill="#4d7db8"/>
<rect x="31.10" y="933.24" width="99.25" height="24.301" fill="#4b7bb7"/>
<rect x="130.35" y="933.24" width="99.25" height="24.301" fill="#4575b4"/>
<rect x="238.60" y="933.24" width="99.19" height="24.301" fill="#4575b4"/>
<rect x="337.79" y="933.24" width="99.19" height="24.301" fill="#4e7eb9"/>
<rect x="436.98" y="933.24" width="99.19" height="24.301" fill="#4575b4"/>
<rect x="536.17" y="933.24" width="99.19" height="24.301" fill="#4575b4"/>
<rect x="635.36" y="933.24" width="99.19" height="24.301" fill="#4575b4"/>
<rect x="734.54" y="933.24" width="99.19" height="24.301" fill="#4575b4"/>
<rect x="833.73" y="933.24" width="99.19" height="24.301" fill="#4575b4"/>
<rect x="932.92" y="933.24" width="99.19" height="24.301" fill="#4575b4"/>
<rect x="1032.11" y="933.24" width="99.19" height="24.301" fill="#4575b4"/>
<rect x="31.10" y="957.54" width="99.25" height="24.301" fill="#e3f4f2"/>
<rect x="130.35" y="957.54" width="99.25" height="24.301" fill="#e2f4f4"/>
<rect x="238.60" y="957.54" width="99.19" height="24.301" fill="#90bedb"/>
<rect x="337.79" y="957.54" width="99.19" height="24.301" fill="#87b5d6"/>
<rect x="436.98" y="957.54" width="99.19" height="24.301" fill="#aed2e6"/>
<rect x="536.17" y="957.54" width="99.19" height="24.301" fill="#a7cee3"/>
<rect x="635.36" y="957.54" width="99.19" height="24.301" fill="#b1d4e7"/>
<rect x="734.54" y="957.54" width="99.19" height="24.301" fill="#90bedb"/>
<rect x="833.73" y="957.54" width="99.19" height="24.301" fill="#87b5d6"/>
<rect x="932.92" y="957.54" width="99.19" height="24.301" fill="#b1d4e7"/>
<rect x="1032.11" y="957.54" width="99.19" height="24.301" fill="#8cbad8"/>
<rect x="31.10" y="981.84" width="99.25" height="24.301" fill="#4575b4"/>
<rect x="130.35" y="981.84" width="99.25" height="24.301" fill="#4575b4"/>
<rect x="238.60" y="981.84" width="99.19" height="24.301" fill="#4575b4"/>
<rect x="337.79" y="981.84" width="99.19" height="24.301" fill="#4575b4"/>
<rect x="436.98" y="981.84" width="99.19" height="24.301" fill="#4575b4"/>
<rect x="536.17" y="981.84" width="99.19" height="24.301" fill="#4575b4"/>
<rect x="635.36" y="981.84" width="99.19" height="24.301" fill="#4575b4"/>
<rect x="734.54" y="981.84" width="99.19" height="24.301" fill="#4575b4"/>
<rect x="833.73" y="981.84" width="99.19" height="24.301" fill="#4575b4"/>
<rect x="932.92" y="981.84" width="99.19" height="24.301" fill="#4575b4"/>
<rect x="1032.11" y="981.84" width="99.19" height="24.301" fill="#4575b4"/>
<rect x="31.10" y="1006.14" width="99.25" height="24.301" fill="#4575b4"/>
<rect x="130.35" y="1006.14" width="99.25" height="24.301" fill="#7faed2"/>
<rect x="238.60" y="1006.14" width="99.19" height="24.301" fill="#b1d4e7"/>
<rect x="337.79" y="1006.14" width="99.19" height="24.301" fill="#84b2d4"/>
<rect x="436.98" y="1006.14" width="99.19" height="24.301" fill="#e7f6eb"/>
<rect x="536.17" y="1006.14" width="99.19" height="24.301" fill="#a4cce2"/>
<rect x="635.36" y="1006.14" width="99.19" height="24.301" fill="#abd0e4"/>
<rect x="734.54" y="1006.14" width="99.19" height="24.301" fill="#d8eef5"/>
<rect x="833.73" y="1006.14" width="99.19" height="24.301" fill="#eaf7e6"/>
<rect x="932.92" y="1006.14" width="99.19" height="24.301" fill="#ddf1f7"/>
<rect x="1032.11" y="1006.14" width="99.19" height="24.301" fill="#f2fad7"/>
<rect x="31.10" y="1030.44" width="99.25" height="24.301" fill="#4575b4"/>
<rect x="130.35" y="1030.44" width="99.25" height="24.301" fill="#4e7eb9"/>
<rect x="238.60" y="1030.44" width="99.19" height="24.301" fill="#4575b4"/>
<rect x="337.79" y="1030.44" width="99.19" height="24.301" fill="#4575b4"/>
<rect x="436.98" y="1030.44" width="99.19" height="24.301" fill="#4575b4"/>
<rect x="536.17" y="1030.44" width="99.19" height="24.301" fill="#4575b4"/>
<rect x="635.36" y="1030.44" width="99.19" height="24.301" fill="#4575b4"/>
<rect x="734.54" y="1030.44" width="99.19" height="24.301" fill="#4575b4"/>
<rect x="833.73" y="1030.44" width="99.19" height="24.301" fill="#4575b4"/>
<rect x="932.92" y="1030.44" width="99.19" height="24.301" fill="#4575b4"/>
<rect x="1032.11" y="1030.44" width="99.19" height="24.301" fill="#4575b4"/>
<rect x="31.10" y="1054.74" width="99.25" height="24.301" fill="#4575b4"/>
<rect x="130.35" y="1054.74" width="99.25" height="24.301" fill="#4575b4"/>
<rect x="238.60" y="1054.74" width="99.19" height="24.301" fill="#4575b4"/>
<rect x="337.79" y="1054.74" width="99.19" height="24.301" fill="#4575b4"/>
<rect x="436.98" y="1054.74" width="99.19" height="24.301" fill="#4575b4"/>
<rect x="536.17" y="1054.74" width="99.19" height="24.301" fill="#4575b4"/>
<rect x="635.36" y="1054.74" width="99.19" height="24.301" fill="#4575b4"/>
<rect x="734.54" y="1054.74" width="99.19" height="24.301" fill="#4575b4"/>
<rect x="833.73" y="1054.74" width="99.19" height="24.301" fill="#4575b4"/>
<rect x="932.92" y="1054.74" width="99.19" height="24.301" fill="#4575b4"/>
<rect x="1032.11" y="1054.74" width="99.19" height="24.301" fill="#4575b4"/>
<rect x="31.10" y="1079.04" width="99.25" height="24.301" fill="#b1d4e7"/>
<rect x="130.35" y="1079.04" width="99.25" height="24.301" fill="#e1f3f6"/>
<rect x="238.60" y="1079.04" width="99.19" height="24.301" fill="#4575b4"/>
<rect x="337.79" y="1079.04" width="99.19" height="24.301" fill="#4575b4"/>
<rect x="436.98" y="1079.04" width="99.19" height="24.301" fill="#4575b4"/>
<rect x="536.17" y="1079.04" width="99.19" height="24.301" fill="#4575b4"/>
<rect x="635.36" y="1079.04" width="99.19" height="24.301" fill="#4575b4"/>
<rect x="734.54" y="1079.04" width="99.19" height="24.301" fill="#4575b4"/>
<rect x="833.73" y="1079.04" width="99.19" height="24.301" fill="#4575b4"/>
<rect x="932.92" y="1079.04" width="99.19" height="24.301" fill="#4575b4"/>
<rect x="1032.11" y="1079.04" width="99.19" height="24.301" fill="#4575b4"/>
<rect x="31.10" y="1103.35" width="99.25" height="24.301" fill="#4575b4"/>
<rect x="130.35" y="1103.35" width="99.25" height="24.301" fill="#4575b4"/>
<rect x="238.60" y="1103.35" width="99.19" height="24.301" fill="#6897c6"/>
<rect x="337.79" y="1103.35" width="99.19" height="24.301" fill="#4a7ab6"/>
<rect x="436.98" y="1103.35" width="99.19" height="24.301" fill="#94c1dc"/>
<rect x="536.17" y="1103.35" width="99.19" height="24.301" fill="#5887be"/>
<rect x="635.36" y="1103.35" width="99.19" height="24.301" fill="#6897c6"/>
<rect x="734.54" y="1103.35" width="99.19" height="24.301" fill="#71a0cb"/>
<rect x="833.73" y="1103.35" width="99.19" height="24.301" fill="#7cabd0"/>
<rect x="932.92" y="1103.35" width="99.19" height="24.301" fill="#79a8cf"/>
<rect x="1032.11" y="1103.35" width="99.19" height="24.301" fill="#87b5d6"/>
<rect x="31.10" y="1127.65" width="99.25" height="24.301" fill="#4575b4"/>
<rect x="130.35" y="1127.65" width="99.25" height="24.301" fill="#4575b4"/>
<rect x="238.60" y="1127.65" width="99.19" height="24.301" fill="#4575b4"/>
<rect x="337.79" y="1127.65" width="99.19" height="24.301" fill="#4575b4"/>
<rect x="436.98" y="1127.65" width="99.19" height="24.301" fill="#4a7ab6"/>
<rect x="536.17" y="1127.65" width="99.19" height="24.301" fill="#4575b4"/>
<rect x="635.36" y="1127.65" width="99.19" height="24.301" fill="#4575b4"/>
<rect x="734.54" y="1127.65" width="99.19" height="24.301" fill="#4575b4"/>
<rect x="833.73" y="1127.65" width="99.19" height="24.301" fill="#4e7eb9"/>
<rect x="932.92" y="1127.65" width="99.19" height="24.301" fill="#4a7ab6"/>
<rect x="1032.11" y="1127.65" width="99.19" height="24.301" fill="#4575b4"/>
<rect x="31.10" y="1151.95" width="99.25" height="24.301" fill="#4575b4"/>
<rect x="130.35" y="1151.95" width="99.25" height="24.301" fill="#4575b4"/>
<rect x="238.60" y="1151.95" width="99.19" height="24.301" fill="#4575b4"/>
<rect x="337.79" y="1151.95" width="99.19" height="24.301" fill="#4575b4"/>
<rect x="436.98" y="1151.95" width="99.19" height="24.301" fill="#4575b4"/>
<rect x="536.17" y="1151.95" width="99.19" height="24.301" fill="#4575b4"/>
<rect x="635.36" y="1151.95" width="99.19" height="24.301" fill="#4575b4"/>
<rect x="734.54" y="1151.95" width="99.19" height="24.301" fill="#4575b4"/>
<rect x="833.73" y="1151.95" width="99.19" height="24.301" fill="#4575b4"/>
<rect x="932.92" y="1151.95" width="99.19" height="24.301" fill="#4575b4"/>
<rect x="1032.11" y="1151.95" width="99.19" height="24.301" fill="#4575b4"/>
<rect x="31.10" y="1176.25" width="99.25" height="24.301" fill="#4575b4"/>
<rect x="130.35" y="1176.25" width="99.25" height="24.301" fill="#4575b4"/>
<rect x="238.60" y="1176.25" width="99.19" height="24.301" fill="#4575b4"/>
<rect x="337.79" y="1176.25" width="99.19" height="24.301" fill="#4575b4"/>
<rect x="436.98" y="1176.25" width="99.19" height="24.301" fill="#4575b4"/>
<rect x="536.17" y="1176.25" width="99.19" height="24.301" fill="#4575b4"/>
<rect x="635.36" y="1176.25" width="99.19" height="24.301" fill="#4575b4"/>
<rect x="734.54" y="1176.25" width="99.19" height="24.301" fill="#4575b4"/>
<rect x="833.73" y="1176.25" width="99.19" height="24.301" fill="#4575b4"/>
<rect x="932.92" y="1176.25" width="99.19" height="24.301" fill="#4575b4"/>
<rect x="1032.11" y="1176.25" width="99.19" height="24.301" fill="#4575b4"/>
<rect x="31.10" y="1200.55" width="99.25" height="24.301" fill="#4575b4"/>
<rect x="130.35" y="1200.55" width="99.25" height="24.301" fill="#4575b4"/>
<rect x="238.60" y="1200.55" width="99.19" height="24.301" fill="#5d8cc0"/>
<rect x="337.79" y="1200.55" width="99.19" height="24.301" fill="#4575b4"/>
<rect x="436.98" y="1200.55" width="99.19" height="24.301" fill="#4575b4"/>
<rect x="536.17" y="1200.55" width="99.19" height="24.301" fill="#4e7eb9"/>
<rect x="635.36" y="1200.55" width="99.19" height="24.301" fill="#4575b4"/>
<rect x="734.54" y="1200.55" width="99.19" height="24.301" fill="#4a7ab6"/>
<rect x="833.73" y="1200.55" width="99.19" height="24.301" fill="#4575b4"/>
<rect x="932.92" y="1200.55" width="99.19" height="24.301" fill="#4575b4"/>
<rect x="1032.11" y="1200.55" width="99.19" height="24.301" fill="#4575b4"/>
<rect x="31.10" y="1224.85" width="99.25" height="24.301" fill="#4575b4"/>
<rect x="130.35" y="1224.85" width="99.25" height="24.301" fill="#6c9bc8"/>
<rect x="238.60" y="1224.85" width="99.19" height="24.301" fill="#ffffbf"/>
<rect x="337.79" y="1224.85" width="99.19" height="24.301" fill="#6191c3"/>
<rect x="436.98" y="1224.85" width="99.19" height="24.301" fill="#87b5d6"/>
<rect x="536.17" y="1224.85" width="99.19" height="24.301" fill="#e9f6e8"/>
<rect x="635.36" y="1224.85" width="99.19" height="24.301" fill="#b8d8e9"/>
<rect x="734.54" y="1224.85" width="99.19" height="24.301" fill="#f9fdca"/>
<rect x="833.73" y="1224.85" width="99.19" height="24.301" fill="#4a7ab6"/>
<rect x="932.92" y="1224.85" width="99.19" height="24.301" fill="#4575b4"/>
<rect x="1032.11" y="1224.85" width="99.19" height="24.301" fill="#c5e1ee"/>
<rect x="31.10" y="1249.15" width="99.25" height="24.301" fill="#e9f6e8"/>
<rect x="130.35" y="1249.15" width="99.25" height="24.301" fill="#e3f4f2"/>
<rect x="238.60" y="1249.15" width="99.19" height="24.301" fill="#5d8cc0"/>
<rect x="337.79" y="1249.15" width="99.19" height="24.301" fill="#e1f3f6"/>
<rect x="436.98" y="1249.15" width="99.19" height="24.301" fill="#5887be"/>
<rect x="536.17" y="1249.15" width="99.19" height="24.301" fill="#94c1dc"/>
<rect x="635.36" y="1249.15" width="99.19" height="24.301" fill="#6897c6"/>
<rect x="734.54" y="1249.15" width="99.19" height="24.301" fill="#4575b4"/>
<rect x="833.73" y="1249.15" width="99.19" height="24.301" fill="#4575b4"/>
<rect x="932.92" y="1249.15" width="99.19" height="24.301" fill="#4a7ab6"/>
<rect x="1032.11" y="1249.15" width="99.19" height="24.301" fill="#4575b4"/>
<rect x="31.10" y="1273.45" width="99.25" height="24.301" fill="#4575b4"/>
<rect x="130.35" y="1273.45" width="99.25" height="24.301" fill="#4575b4"/>
<rect x="238.60" y="1273.45" width="99.19" height="24.301" fill="#f9fdcb"/>
<rect x="337.79" y="1273.45" width="99.19" height="24.301" fill="#ffffbf"/>
<rect x="436.98" y="1273.45" width="99.19" height="24.301" fill="#ffffbf"/>
<rect x="536.17" y="1273.45" width="99.19" height="24.301" fill="#f2fad7"/>
<rect x="635.36" y="1273.45" width="99.19" height="24.301" fill="#c1dfed"/>
<rect x="734.54" y="1273.45" width="99.19" height="24.301" fill="#f5fbd1"/>
<rect x="833.73" y="1273.45" width="99.19" height="24.301" fill="#b4d6e8"/>
<rect x="932.92" y="1273.45" width="99.19" height="24.301" fill="#f5fbd1"/>
<rect x="1032.11" y="1273.45" width="99.19" height="24.301" fill="#c8e3ef"/>
<rect x="31.10" y="1297.75" width="99.25" height="24.301" fill="#4575b4"/>
<rect x="130.35" y="1297.75" width="99.25" height="24.301" fill="#4575b4"/>
<rect x="238.60" y="1297.75" width="99.19" height="24.301" fill="#4575b4"/>
<rect x="337.79" y="1297.75" width="99.19" height="24.301" fill="#4575b4"/>
<rect x="436.98" y="1297.75" width="99.19" height="24.301" fill="#4575b4"/>
<rect x="536.17" y="1297.75" width="99.19" height="24.301" fill="#4575b4"/>
<rect x="635.36" y="1297.75" width="99.19" height="24.301" fill="#4575b4"/>
<rect x="734.54" y="1297.75" width="99.19" height="24.301" fill="#4575b4"/>
<rect x="833.73" y="1297.75" width="99.19" height="24.301" fill="#4575b4"/>
<rect x="932.92" y="1297.75" width="99.19" height="24.301" fill="#4575b4"/>
<rect x="1032.11" y="1297.75" width="99.19" height="24.301" fill="#4575b4"/>
<rect x="31.10" y="1322.06" width="99.25" height="24.301" fill="#4575b4"/>
<rect x="130.35" y="1322.06" width="99.25" height="24.301" fill="#4575b4"/>
<rect x="238.60" y="1322.06" width="99.19" height="24.301" fill="#6191c3"/>
<rect x="337.79" y="1322.06" width="99.19" height="24.301" fill="#4575b4"/>
<rect x="436.98" y="1322.06" width="99.19" height="24.301" fill="#4575b4"/>
<rect x="536.17" y="1322.06" width="99.19" height="24.301" fill="#79a8cf"/>
<rect x="635.36" y="1322.06" width="99.19" height="24.301" fill="#4575b4"/>
<rect x="734.54" y="1322.06" width="99.19" height="24.301" fill="#5281ba"/>
<rect x="833.73" y="1322.06" width="99.19" height="24.301" fill="#4575b4"/>
<rect x="932.92" y="1322.06" width="99.19" height="24.301" fill="#4575b4"/>
<rect x="1032.11" y="1322.06" width="99.19" height="24.301" fill="#4575b4"/>
<rect x="31.10" y="1346.36" width="99.25" height="24.301" fill="#4575b4"/>
<rect x="130.35" y="1346.36" width="99.25" height="24.301" fill="#4575b4"/>
<rect x="238.60" y="1346.36" width="99.19" height="24.301" fill="#7cabd0"/>
<rect x="337.79" y="1346.36" width="99.19" height="24.301" fill="#4575b4"/>
<rect x="436.98" y="1346.36" width="99.19" height="24.301" fill="#4d7db8"/>
<rect x="536.17" y="1346.36" width="99.19" height="24.301" fill="#6897c6"/>
<rect x="635.36" y="1346.36" width="99.19" height="24.301" fill="#5584bc"/>
<rect x="734.54" y="1346.36" width="99.19" height="24.301" fill="#5584bc"/>
<rect x="833.73" y="1346.36" width="99.19" height="24.301" fill="#4575b4"/>
<rect x="932.92" y="1346.36" width="99.19" height="24.301" fill="#4575b4"/>
<rect x="1032.11" y="1346.36" width="99.19" height="24.301" fill="#4575b4"/>
<rect x="31.10" y="1370.66" width="99.25" height="24.301" fill="#4575b4"/>
<rect x="130.35" y="1370.66" width="99.25" height="24.301" fill="#4575b4"/>
<rect x="238.60" y="1370.66" width="99.19" height="24.301" fill="#f9fdcb"/>
<rect x="337.79" y="1370.66" width="99.19" height="24.301" fill="#fdfec3"/>
<rect x="436.98" y="1370.66" width="99.19" height="24.301" fill="#fdfec3"/>
<rect x="536.17" y="1370.66" width="99.19" height="24.301" fill="#f4fbd3"/>
<rect x="635.36" y="1370.66" width="99.19" height="24.301" fill="#c1dfed"/>
<rect x="734.54" y="1370.66" width="99.19" height="24.301" fill="#f5fbd1"/>
<rect x="833.73" y="1370.66" width="99.19" height="24.301" fill="#b4d6e8"/>
<rect x="932.92" y="1370.66" width="99.19" height="24.301" fill="#f2fad7"/>
<rect x="1032.11" y="1370.66" width="99.19" height="24.301" fill="#c8e3ef"/>
<rect x="31.10" y="1394.96" width="99.25" height="24.301" fill="#4575b4"/>
<rect x="130.35" y="1394.96" width="99.25" height="24.301" fill="#4d7db8"/>
<rect x="238.60" y="1394.96" width="99.19" height="24.301" fill="#fee99d"/>
<rect x="337.79" y="1394.96" width="99.19" height="24.301" fill="#79a8cf"/>
<rect x="436.98" y="1394.96" width="99.19" height="24.301" fill="#4d7db8"/>
<rect x="536.17" y="1394.96" width="99.19" height="24.301" fill="#feeca2"/>
<rect x="635.36" y="1394.96" width="99.19" height="24.301" fill="#6c9bc8"/>
<rect x="734.54" y="1394.96" width="99.19" height="24.301" fill="#fedd8e"/>
<rect x="833.73" y="1394.96" width="99.19" height="24.301" fill="#bddceb"/>
<rect x="932.92" y="1394.96" width="99.19" height="24.301" fill="#5281ba"/>
<rect x="1032.11" y="1394.96" width="99.19" height="24.301" fill="#ecf8e2"/>
<rect x="31.10" y="1419.26" width="99.25" height="24.301" fill="#7cabd0"/>
<rect x="130.35" y="1419.26" width="99.25" height="24.301" fill="#c8e3ef"/>
<rect x="238.60" y="1419.26" width="99.19" height="24.301" fill="#f2734b"/>
<rect x="337.79" y="1419.26" width="99.19" height="24.301" fill="#ecf8e2"/>
<rect x="436.98" y="1419.26" width="99.19" height="24.301" fill="#7cabd0"/>
<rect x="536.17" y="1419.26" width="99.19" height="24.301" fill="#e24b35"/>
<rect x="635.36" y="1419.26" width="99.19" height="24.301" fill="#fee598"/>
<rect x="734.54" y="1419.26" width="99.19" height="24.301" fill="#d73027"/>
<rect x="833.73" y="1419.26" width="99.19" height="24.301" fill="#fcfec5"/>
<rect x="932.92" y="1419.26" width="99.19" height="24.301" fill="#84b2d4"/>
<rect x="1032.11" y="1419.26" width="99.19" height="24.301" fill="#fff9b5"/>
<rect x="31.10" y="1443.56" width="99.25" height="24.301" fill="#4575b4"/>
<rect x="130.35" y="1443.56" width="99.25" height="24.301" fill="#4575b4"/>
<rect x="238.60" y="1443.56" width="99.19" height="24.301" fill="#6494c4"/>
<rect x="337.79" y="1443.56" width="99.19" height="24.301" fill="#4575b4"/>
<rect x="436.98" y="1443.56" width="99.19" height="24.301" fill="#4575b4"/>
<rect x="536.17" y="1443.56" width="99.19" height="24.301" fill="#5281ba"/>
<rect x="635.36" y="1443.56" width="99.19" height="24.301" fill="#4e7eb9"/>
<rect x="734.54" y="1443.56" width="99.19" height="24.301" fill="#4575b4"/>
<rect x="833.73" y="1443.56" width="99.19" height="24.301" fill="#4575b4"/>
<rect x="932.92" y="1443.56" width="99.19" height="24.301" fill="#4575b4"/>
<rect x="1032.11" y="1443.56" width="99.19" height="24.301" fill="#4575b4"/>
<rect x="31.10" y="1467.86" width="99.25" height="24.301" fill="#4d7db8"/>
<rect x="130.35" y="1467.86" width="99.25" height="24.301" fill="#4d7db8"/>
<rect x="238.60" y="1467.86" width="99.19" height="24.301" fill="#bddceb"/>
<rect x="337.79" y="1467.86" width="99.19" height="24.301" fill="#4575b4"/>
<rect x="436.98" y="1467.86" width="99.19" height="24.301" fill="#71a0cb"/>
<rect x="536.17" y="1467.86" width="99.19" height="24.301" fill="#eff9dc"/>
<rect x="635.36" y="1467.86" width="99.19" height="24.301" fill="#b8d8e9"/>
<rect x="734.54" y="1467.86" width="99.19" height="24.301" fill="#a4cce2"/>
<rect x="833.73" y="1467.86" width="99.19" height="24.301" fill="#4575b4"/>
<rect x="932.92" y="1467.86" width="99.19" height="24.301" fill="#4a7ab6"/>
<rect x="1032.11" y="1467.86" width="99.19" height="24.301" fill="#5887be"/>
<rect x="31.10" y="1492.16" width="99.25" height="24.301" fill="#4575b4"/>
<rect x="130.35" y="1492.16" width="99.25" height="24.301" fill="#74a3cc"/>
<rect x="238.60" y="1492.16" width="99.19" height="24.301" fill="#fc975f"/>
<rect x="337.79" y="1492.16" width="99.19" height="24.301" fill="#e9f6e8"/>
<rect x="436.98" y="1492.16" width="99.19" height="24.301" fill="#5887be"/>
<rect x="536.17" y="1492.16" width="99.19" height="24.301" fill="#fdaa6c"/>
<rect x="635.36" y="1492.16" width="99.19" height="24.301" fill="#c1dfed"/>
<rect x="734.54" y="1492.16" width="99.19" height="24.301" fill="#fc975f"/>
<rect x="833.73" y="1492.16" width="99.19" height="24.301" fill="#ecf8e2"/>
<rect x="932.92" y="1492.16" width="99.19" height="24.301" fill="#74a3cc"/>
<rect x="1032.11" y="1492.16" width="99.19" height="24.301" fill="#fff5b0"/>
<rect x="31.10" y="1516.46" width="99.25" height="24.301" fill="#87b5d6"/>
<rect x="130.35" y="1516.46" width="99.25" height="24.301" fill="#e9f6e8"/>
<rect x="238.60" y="1516.46" width="99.19" height="24.301" fill="#ee6a46"/>
<rect x="337.79" y="1516.46" width="99.19" height="24.301" fill="#fff5b0"/>
<rect x="436.98" y="1516.46" width="99.19" height="24.301" fill="#ecf8e2"/>
<rect x="536.17" y="1516.46" width="99.19" height="24.301" fill="#d73027"/>
<rect x="635.36" y="1516.46" width="99.19" height="24.301" fill="#fee293"/>
<rect x="734.54" y="1516.46" width="99.19" height="24.301" fill="#d73027"/>
<rect x="833.73" y="1516.46" width="99.19" height="24.301" fill="#fffcba"/>
<rect x="932.92" y="1516.46" width="99.19" height="24.301" fill="#eff9dc"/>
<rect x="1032.11" y="1516.46" width="99.19" height="24.301" fill="#fee293"/>
<rect x="31.10" y="1540.76" width="99.25" height="24.301" fill="#4575b4"/>
<rect x="130.35" y="1540.76" width="99.25" height="24.301" fill="#4575b4"/>
<rect x="238.60" y="1540.76" width="99.19" height="24.301" fill="#5584bc"/>
<rect x="337.79" y="1540.76" width="99.19" height="24.301" fill="#4575b4"/>
<rect x="436.98" y="1540.76" width="99.19" height="24.301" fill="#4575b4"/>
<rect x="536.17" y="1540.76" width="99.19" height="24.301" fill="#4575b4"/>
<rect x="635.36" y="1540.76" width="99.19" height="24.301" fill="#4575b4"/>
<rect x="734.54" y="1540.76" width="99.19" height="24.301" fill="#4e7eb9"/>
<rect x="833.73" y="1540.76" width="99.19" height="24.301" fill="#5d8cc0"/>
<rect x="932.92" y="1540.76" width="99.19" height="24.301" fill="#4575b4"/>
<rect x="1032.11" y="1540.76" width="99.19" height="24.301" fill="#4a7ab6"/>
<rect x="31.10" y="1565.07" width="99.25" height="24.301" fill="#4575b4"/>
<rect x="130.35" y="1565.07" width="99.25" height="24.301" fill="#4575b4"/>
<rect x="238.60" y="1565.07" width="99.19" height="24.301" fill="#90bedb"/>
<rect x="337.79" y="1565.07" width="99.19" height="24.301" fill="#4575b4"/>
<rect x="436.98" y="1565.07" width="99.19" height="24.301" fill="#6191c3"/>
<rect x="536.17" y="1565.07" width="99.19" height="24.301" fill="#7cabd0"/>
<rect x="635.36" y="1565.07" width="99.19" height="24.301" fill="#5281ba"/>
<rect x="734.54" y="1565.07" width="99.19" height="24.301" fill="#6897c6"/>
<rect x="833.73" y="1565.07" width="99.19" height="24.301" fill="#4575b4"/>
<rect x="932.92" y="1565.07" width="99.19" height="24.301" fill="#4575b4"/>
<rect x="1032.11" y="1565.07" width="99.19" height="24.301" fill="#4a7ab6"/>
<rect x="31.10" y="1589.37" width="99.25" height="24.301" fill="#4575b4"/>
<rect x="130.35" y="1589.37" width="99.25" height="24.301" fill="#4575b4"/>
<rect x="238.60" y="1589.37" width="99.19" height="24.301" fill="#4575b4"/>
<rect x="337.79" y="1589.37" width="99.19" height="24.301" fill="#4575b4"/>
<rect x="436.98" y="1589.37" width="99.19" height="24.301" fill="#81afd3"/>
<rect x="536.17" y="1589.37" width="99.19" height="24.301" fill="#4575b4"/>
<rect x="635.36" y="1589.37" width="99.19" height="24.301" fill="#4a7ab6"/>
<rect x="734.54" y="1589.37" width="99.19" height="24.301" fill="#4575b4"/>
<rect x="833.73" y="1589.37" width="99.19" height="24.301" fill="#4575b4"/>
<rect x="932.92" y="1589.37" width="99.19" height="24.301" fill="#4575b4"/>
<rect x="1032.11" y="1589.37" width="99.19" height="24.301" fill="#4575b4"/>
<rect x="31.10" y="1613.67" width="99.25" height="24.301" fill="#4575b4"/>
<rect x="130.35" y="1613.67" width="99.25" height="24.301" fill="#4575b4"/>
<rect x="238.60" y="1613.67" width="99.19" height="24.301" fill="#4575b4"/>
<rect x="337.79" y="1613.67" width="99.19" height="24.301" fill="#87b5d6"/>
<rect x="436.98" y="1613.67" width="99.19" height="24.301" fill="#6c9bc8"/>
<rect x="536.17" y="1613.67" width="99.19" height="24.301" fill="#4575b4"/>
<rect x="635.36" y="1613.67" width="99.19" height="24.301" fill="#7cabd0"/>
<rect x="734.54" y="1613.67" width="99.19" height="24.301" fill="#6494c4"/>
<rect x="833.73" y="1613.67" width="99.19" height="24.301" fill="#6c9bc8"/>
<rect x="932.92" y="1613.67" width="99.19" height="24.301" fill="#6494c4"/>
<rect x="1032.11" y="1613.67" width="99.19" height="24.301" fill="#5281ba"/>
<rect x="31.10" y="1637.97" width="99.25" height="24.301" fill="#4575b4"/>
<rect x="130.35" y="1637.97" width="99.25" height="24.301" fill="#4575b4"/>
<rect x="238.60" y="1637.97" width="99.19" height="24.301" fill="#4a7ab6"/>
<rect x="337.79" y="1637.97" width="99.19" height="24.301" fill="#4575b4"/>
<rect x="436.98" y="1637.97" width="99.19" height="24.301" fill="#4575b4"/>
<rect x="536.17" y="1637.97" width="99.19" height="24.301" fill="#4a7ab6"/>
<rect x="635.36" y="1637.97" width="99.19" height="24.301" fill="#4575b4"/>
<rect x="734.54" y="1637.97" width="99.19" height="24.301" fill="#4a7ab6"/>
<rect x="833.73" y="1637.97" width="99.19" height="24.301" fill="#4575b4"/>
<rect x="932.92" y="1637.97" width="99.19" height="24.301" fill="#4575b4"/>
<rect x="1032.11" y="1637.97" width="99.19" height="24.301" fill="#4575b4"/>
<rect x="31.10" y="1662.27" width="99.25" height="24.301" fill="#4575b4"/>
<rect x="130.35" y="1662.27" width="99.25" height="24.301" fill="#4575b4"/>
<rect x="238.60" y="1662.27" width="99.19" height="24.301" fill="#4d7db8"/>
<rect x="337.79" y="1662.27" width="99.19" height="24.301" fill="#4e7eb9"/>
<rect x="436.98" y="1662.27" width="99.19" height="24.301" fill="#5887be"/>
<rect x="536.17" y="1662.27" width="99.19" height="24.301" fill="#5887be"/>
<rect x="635.36" y="1662.27" width="99.19" height="24.301" fill="#5281ba"/>
<rect x="734.54" y="1662.27" width="99.19" height="24.301" fill="#5281ba"/>
<rect x="833.73" y="1662.27" width="99.19" height="24.301" fill="#5281ba"/>
<rect x="932.92" y="1662.27" width="99.19" height="24.301" fill="#5281ba"/>
<rect x="1032.11" y="1662.27" width="99.19" height="24.301" fill="#4e7eb9"/>
<rect x="31.10" y="1686.57" width="99.25" height="24.301" fill="#4575b4"/>
<rect x="130.35" y="1686.57" width="99.25" height="24.301" fill="#4575b4"/>
<rect x="238.60" y="1686.57" width="99.19" height="24.301" fill="#4575b4"/>
<rect x="337.79" y="1686.57" width="99.19" height="24.301" fill="#b1d4e7"/>
<rect x="436.98" y="1686.57" width="99.19" height="24.301" fill="#81afd3"/>
<rect x="536.17" y="1686.57" width="99.19" height="24.301" fill="#4575b4"/>
<rect x="635.36" y="1686.57" width="99.19" height="24.301" fill="#94c1dc"/>
<rect x="734.54" y="1686.57" width="99.19" height="24.301" fill="#74a3cc"/>
<rect x="833.73" y="1686.57" width="99.19" height="24.301" fill="#94c1dc"/>
<rect x="932.92" y="1686.57" width="99.19" height="24.301" fill="#7cabd0"/>
<rect x="1032.11" y="1686.57" width="99.19" height="24.301" fill="#5584bc"/>
<rect x="31.10" y="1710.87" width="99.25" height="24.301" fill="#4575b4"/>
<rect x="130.35" y="1710.87" width="99.25" height="24.301" fill="#4575b4"/>
<rect x="238.60" y="1710.87" width="99.19" height="24.301" fill="#5989be"/>
<rect x="337.79" y="1710.87" width="99.19" height="24.301" fill="#5584bc"/>
<rect x="436.98" y="1710.87" width="99.19" height="24.301" fill="#6191c3"/>
<rect x="536.17" y="1710.87" width="99.19" height="24.301" fill="#5e8dc1"/>
<rect x="635.36" y="1710.87" width="99.19" height="24.301" fill="#5584bc"/>
<rect x="734.54" y="1710.87" width="99.19" height="24.301" fill="#5281ba"/>
<rect x="833.73" y="1710.87" width="99.19" height="24.301" fill="#5584bc"/>
<rect x="932.92" y="1710.87" width="99.19" height="24.301" fill="#5e8dc1"/>
<rect x="1032.11" y="1710.87" width="99.19" height="24.301" fill="#5989be"/>
<rect x="31.10" y="1735.17" width="99.25" height="24.301" fill="#4575b4"/>
<rect x="130.35" y="1735.17" width="99.25" height="24.301" fill="#4575b4"/>
<rect x="238.60" y="1735.17" width="99.19" height="24.301" fill="#4a7ab6"/>
<rect x="337.79" y="1735.17" width="99.19" height="24.301" fill="#4575b4"/>
<rect x="436.98" y="1735.17" width="99.19" height="24.301" fill="#4e7eb9"/>
<rect x="536.17" y="1735.17" width="99.19" height="24.301" fill="#4b7bb7"/>
<rect x="635.36" y="1735.17" width="99.19" height="24.301" fill="#4a7ab6"/>
<rect x="734.54" y="1735.17" width="99.19" height="24.301" fill="#4575b4"/>
<rect x="833.73" y="1735.17" width="99.19" height="24.301" fill="#4575b4"/>
<rect x="932.92" y="1735.17" width="99.19" height="24.301" fill="#4575b4"/>
<rect x="1032.11" y="1735.17" width="99.19" height="24.301" fill="#4575b4"/>
<rect x="31.10" y="1759.47" width="99.25" height="24.301" fill="#4575b4"/>
<rect x="130.35" y="1759.47" width="99.25" height="24.301" fill="#4575b4"/>
<rect x="238.60" y="1759.47" width="99.19" height="24.301" fill="#4575b4"/>
<rect x="337.79" y="1759.47" width="99.19" height="24.301" fill="#4575b4"/>
<rect x="436.98" y="1759.47" width="99.19" height="24.301" fill="#4a7ab6"/>
<rect x="536.17" y="1759.47" width="99.19" height="24.301" fill="#4a7ab6"/>
<rect x="635.36" y="1759.47" width="99.19" height="24.301" fill="#4575b4"/>
<rect x="734.54" y="1759.47" width="99.19" height="24.301" fill="#4575b4"/>
<rect x="833.73" y="1759.47" width="99.19" height="24.301" fill="#4575b4"/>
<rect x="932.92" y="1759.47" width="99.19" height="24.301" fill="#4575b4"/>
<rect x="1032.11" y="1759.47" width="99.19" height="24.301" fill="#4575b4"/>
<rect x="31.10" y="1783.77" width="99.25" height="24.301" fill="#4575b4"/>
<rect x="130.35" y="1783.77" width="99.25" height="24.301" fill="#4575b4"/>
<rect x="238.60" y="1783.77" width="99.19" height="24.301" fill="#4575b4"/>
<rect x="337.79" y="1783.77" width="99.19" height="24.301" fill="#4575b4"/>
<rect x="436.98" y="1783.77" width="99.19" height="24.301" fill="#90bedb"/>
<rect x="536.17" y="1783.77" width="99.19" height="24.301" fill="#4575b4"/>
<rect x="635.36" y="1783.77" width="99.19" height="24.301" fill="#4575b4"/>
<rect x="734.54" y="1783.77" width="99.19" height="24.301" fill="#4575b4"/>
<rect x="833.73" y="1783.77" width="99.19" height="24.301" fill="#4575b4"/>
<rect x="932.92" y="1783.77" width="99.19" height="24.301" fill="#4a7ab6"/>
<rect x="1032.11" y="1783.77" width="99.19" height="24.301" fill="#4a7ab6"/>
<rect x="31.10" y="1808.08" width="99.25" height="24.301" fill="#4575b4"/>
<rect x="130.35" y="1808.08" width="99.25" height="24.301" fill="#4575b4"/>
<rect x="238.60" y="1808.08" width="99.19" height="24.301" fill="#4d7db8"/>
<rect x="337.79" y="1808.08" width="99.19" height="24.301" fill="#5080ba"/>
<rect x="436.98" y="1808.08" width="99.19" height="24.301" fill="#6191c3"/>
<rect x="536.17" y="1808.08" width="99.19" height="24.301" fill="#6897c6"/>
<rect x="635.36" y="1808.08" width="99.19" height="24.301" fill="#6494c4"/>
<rect x="734.54" y="1808.08" width="99.19" height="24.301" fill="#5281ba"/>
<rect x="833.73" y="1808.08" width="99.19" height="24.301" fill="#5989be"/>
<rect x="932.92" y="1808.08" width="99.19" height="24.301" fill="#5989be"/>
<rect x="1032.11" y="1808.08" width="99.19" height="24.301" fill="#6191c3"/>
<rect x="31.10" y="1832.38" width="99.25" height="24.301" fill="#4575b4"/>
<rect x="130.35" y="1832.38" width="99.25" height="24.301" fill="#4575b4"/>
<rect x="238.60" y="1832.38" width="99.19" height="24.301" fill="#4e7eb9"/>
<rect x="337.79" y="1832.38" width="99.19" height="24.301" fill="#4b7bb7"/>
<rect x="436.98" y="1832.38" width="99.19" height="24.301" fill="#5383bb"/>
<rect x="536.17" y="1832.38" width="99.19" height="24.301" fill="#5281ba"/>
<rect x="635.36" y="1832.38" width="99.19" height="24.301" fill="#5281ba"/>
<rect x="734.54" y="1832.38" width="99.19" height="24.301" fill="#4b7bb7"/>
<rect x="833.73" y="1832.38" width="99.19" height="24.301" fill="#4e7eb9"/>
<rect x="932.92" y="1832.38" width="99.19" height="24.301" fill="#5281ba"/>
<rect x="1032.11" y="1832.38" width="99.19" height="24.301" fill="#5281ba"/>
<rect x="31.10" y="1856.68" width="99.25" height="24.301" fill="#4575b4"/>
<rect x="130.35" y="1856.68" width="99.25" height="24.301" fill="#4575b4"/>
<rect x="238.60" y="1856.68" width="99.19" height="24.301" fill="#5281ba"/>
<rect x="337.79" y="1856.68" width="99.19" height="24.301" fill="#5281ba"/>
<rect x="436.98" y="1856.68" width="99.19" height="24.301" fill="#5584bc"/>
<rect x="536.17" y="1856.68" width="99.19" height="24.301" fill="#5584bc"/>
<rect x="635.36" y="1856.68" width="99.19" height="24.301" fill="#5281ba"/>
<rect x="734.54" y="1856.68" width="99.19" height="24.301" fill="#4b7bb7"/>
<rect x="833.73" y="1856.68" width="99.19" height="24.301" fill="#5281ba"/>
<rect x="932.92" y="1856.68" width="99.19" height="24.301" fill="#5281ba"/>
<rect x="1032.11" y="1856.68" width="99.19" height="24.301" fill="#5584bc"/>
<rect x="31.10" y="1880.98" width="99.25" height="24.301" fill="#4575b4"/>
<rect x="130.35" y="1880.98" width="99.25" height="24.301" fill="#4575b4"/>
<rect x="238.60" y="1880.98" width="99.19" height="24.301" fill="#4e7eb9"/>
<rect x="337.79" y="1880.98" width="99.19" height="24.301" fill="#4b7bb7"/>
<rect x="436.98" y="1880.98" width="99.19" height="24.301" fill="#5584bc"/>
<rect x="536.17" y="1880.98" width="99.19" height="24.301" fill="#5281ba"/>
<rect x="635.36" y="1880.98" width="99.19" height="24.301" fill="#5584bc"/>
<rect x="734.54" y="1880.98" width="99.19" height="24.301" fill="#4878b6"/>
<rect x="833.73" y="1880.98" width="99.19" height="24.301" fill="#4e7eb9"/>
<rect x="932.92" y="1880.98" width="99.19" height="24.301" fill="#4878b6"/>
<rect x="1032.11" y="1880.98" width="99.19" height="24.301" fill="#4e7eb9"/>
<rect x="31.10" y="1905.28" width="99.25" height="24.301" fill="#4575b4"/>
<rect x="130.35" y="1905.28" width="99.25" height="24.301" fill="#4575b4"/>
<rect x="238.60" y="1905.28" width="99.19" height="24.301" fill="#4575b4"/>
<rect x="337.79" y="1905.28" width="99.19" height="24.301" fill="#4a7ab6"/>
<rect x="436.98" y="1905.28" width="99.19" height="24.301" fill="#5584bc"/>
<rect x="536.17" y="1905.28" width="99.19" height="24.301" fill="#5281ba"/>
<rect x="635.36" y="1905.28" width="99.19" height="24.301" fill="#5281ba"/>
<rect x="734.54" y="1905.28" width="99.19" height="24.301" fill="#4575b4"/>
<rect x="833.73" y="1905.28" width="99.19" height="24.301" fill="#4d7db8"/>
<rect x="932.92" y="1905.28" width="99.19" height="24.301" fill="#4d7db8"/>
<rect x="1032.11" y="1905.28" width="99.19" height="24.301" fill="#4a7ab6"/>
<rect x="31.10" y="1929.58" width="99.25" height="24.301" fill="#4575b4"/>
<rect x="130.35" y="1929.58" width="99.25" height="24.301" fill="#4575b4"/>
<rect x="238.60" y="1929.58" width="99.19" height="24.301" fill="#6c9bc8"/>
<rect x="337.79" y="1929.58" width="99.19" height="24.301" fill="#6f9eca"/>
<rect x="436.98" y="1929.58" width="99.19" height="24.301" fill="#97c3dd"/>
<rect x="536.17" y="1929.58" width="99.19" height="24.301" fill="#90bedb"/>
<rect x="635.36" y="1929.58" width="99.19" height="24.301" fill="#89b7d7"/>
<rect x="734.54" y="1929.58" width="99.19" height="24.301" fill="#5e8dc1"/>
<rect x="833.73" y="1929.58" width="99.19" height="24.301" fill="#81afd3"/>
<rect x="932.92" y="1929.58" width="99.19" height="24.301" fill="#7cabd0"/>
<rect x="1032.11" y="1929.58" width="99.19" height="24.301" fill="#8dbbd9"/>
<rect x="31.10" y="1953.88" width="99.25" height="24.301" fill="#4575b4"/>
<rect x="130.35" y="1953.88" width="99.25" height="24.301" fill="#4575b4"/>
<rect x="238.60" y="1953.88" width="99.19" height="24.301" fill="#77a6ce"/>
<rect x="337.79" y="1953.88" width="99.19" height="24.301" fill="#84b2d4"/>
<rect x="436.98" y="1953.88" width="99.19" height="24.301" fill="#94c1dc"/>
<rect x="536.17" y="1953.88" width="99.19" height="24.301" fill="#94c1dc"/>
<rect x="635.36" y="1953.88" width="99.19" height="24.301" fill="#7eacd1"/>
<rect x="734.54" y="1953.88" width="99.19" height="24.301" fill="#76a4cd"/>
<rect x="833.73" y="1953.88" width="99.19" height="24.301" fill="#94c1dc"/>
<rect x="932.92" y="1953.88" width="99.19" height="24.301" fill="#81afd3"/>
<rect x="1032.11" y="1953.88" width="99.19" height="24.301" fill="#90bedb"/>
<rect x="31.10" y="1978.18" width="99.25" height="24.301" fill="#4575b4"/>
<rect x="130.35" y="1978.18" width="99.25" height="24.301" fill="#4575b4"/>
<rect x="238.60" y="1978.18" width="99.19" height="24.301" fill="#5e8dc1"/>
<rect x="337.79" y="1978.18" width="99.19" height="24.301" fill="#5e8dc1"/>
<rect x="436.98" y="1978.18" width="99.19" height="24.301" fill="#74a3cc"/>
<rect x="536.17" y="1978.18" width="99.19" height="24.301" fill="#6f9eca"/>
<rect x="635.36" y="1978.18" width="99.19" height="24.301" fill="#6f9eca"/>
<rect x="734.54" y="1978.18" width="99.19" height="24.301" fill="#5887be"/>
<rect x="833.73" y="1978.18" width="99.19" height="24.301" fill="#6897c6"/>
<rect x="932.92" y="1978.18" width="99.19" height="24.301" fill="#6494c4"/>
<rect x="1032.11" y="1978.18" width="99.19" height="24.301" fill="#6e9dc9"/>
<rect x="31.10" y="2002.48" width="99.25" height="24.301" fill="#4878b6"/>
<rect x="130.35" y="2002.48" width="99.25" height="24.301" fill="#4878b6"/>
<rect x="238.60" y="2002.48" width="99.19" height="24.301" fill="#5e8dc1"/>
<rect x="337.79" y="2002.48" width="99.19" height="24.301" fill="#6392c3"/>
<rect x="436.98" y="2002.48" width="99.19" height="24.301" fill="#77a6ce"/>
<rect x="536.17" y="2002.48" width="99.19" height="24.301" fill="#6f9eca"/>
<rect x="635.36" y="2002.48" width="99.19" height="24.301" fill="#6b9ac7"/>
<rect x="734.54" y="2002.48" width="99.19" height="24.301" fill="#5d8cc0"/>
<rect x="833.73" y="2002.48" width="99.19" height="24.301" fill="#6897c6"/>
<rect x="932.92" y="2002.48" width="99.19" height="24.301" fill="#6695c5"/>
<rect x="1032.11" y="2002.48" width="99.19" height="24.301" fill="#6b9ac7"/>
<rect x="31.10" y="2026.79" width="99.25" height="24.301" fill="#4575b4"/>
<rect x="130.35" y="2026.79" width="99.25" height="24.301" fill="#4575b4"/>
<rect x="238.60" y="2026.79" width="99.19" height="24.301" fill="#4575b4"/>
<rect x="337.79" y="2026.79" width="99.19" height="24.301" fill="#4878b6"/>
<rect x="436.98" y="2026.79" width="99.19" height="24.301" fill="#5080ba"/>
<rect x="536.17" y="2026.79" width="99.19" height="24.301" fill="#4e7eb9"/>
<rect x="635.36" y="2026.79" width="99.19" height="24.301" fill="#4e7eb9"/>
<rect x="734.54" y="2026.79" width="99.19" height="24.301" fill="#4575b4"/>
<rect x="833.73" y="2026.79" width="99.19" height="24.301" fill="#4b7bb7"/>
<rect x="932.92" y="2026.79" width="99.19" height="24.301" fill="#4a7ab6"/>
<rect x="1032.11" y="2026.79" width="99.19" height="24.301" fill="#4a7ab6"/>
<rect x="31.10" y="2051.09" width="99.25" height="24.301" fill="#4575b4"/>
<rect x="130.35" y="2051.09" width="99.25" height="24.301" fill="#4575b4"/>
<rect x="238.60" y="2051.09" width="99.19" height="24.301" fill="#4575b4"/>
<rect x="337.79" y="2051.09" width="99.19" height="24.301" fill="#4575b4"/>
<rect x="436.98" y="2051.09" width="99.19" height="24.301" fill="#4878b6"/>
<rect x="536.17" y="2051.09" width="99.19" height="24.301" fill="#4575b4"/>
<rect x="635.36" y="2051.09" width="99.19" height="24.301" fill="#4878b6"/>
<rect x="734.54" y="2051.09" width="99.19" height="24.301" fill="#4575b4"/>
<rect x="833.73" y="2051.09" width="99.19" height="24.301" fill="#4575b4"/>
<rect x="932.92" y="2051.09" width="99.19" height="24.301" fill="#4575b4"/>
<rect x="1032.11" y="2051.09" width="99.19" height="24.301" fill="#4575b4"/>
<rect x="31.10" y="2075.39" width="99.25" height="24.301" fill="#84b2d4"/>
<rect x="130.35" y="2075.39" width="99.25" height="24.301" fill="#6c9bc8"/>
<rect x="238.60" y="2075.39" width="99.19" height="24.301" fill="#79a8cf"/>
<rect x="337.79" y="2075.39" width="99.19" height="24.301" fill="#6c9bc8"/>
<rect x="436.98" y="2075.39" width="99.19" height="24.301" fill="#6b9ac7"/>
<rect x="536.17" y="2075.39" width="99.19" height="24.301" fill="#90bedb"/>
<rect x="635.36" y="2075.39" width="99.19" height="24.301" fill="#5d8cc0"/>
<rect x="734.54" y="2075.39" width="99.19" height="24.301" fill="#71a0cb"/>
<rect x="833.73" y="2075.39" width="99.19" height="24.301" fill="#71a0cb"/>
<rect x="932.92" y="2075.39" width="99.19" height="24.301" fill="#74a3cc"/>
<rect x="1032.11" y="2075.39" width="99.19" height="24.301" fill="#71a0cb"/>
<rect x="31.10" y="2099.69" width="99.25" height="24.301" fill="#4575b4"/>
<rect x="130.35" y="2099.69" width="99.25" height="24.301" fill="#4575b4"/>
<rect x="238.60" y="2099.69" width="99.19" height="24.301" fill="#6998c7"/>
<rect x="337.79" y="2099.69" width="99.19" height="24.301" fill="#6191c3"/>
<rect x="436.98" y="2099.69" width="99.19" height="24.301" fill="#5584bc"/>
<rect x="536.17" y="2099.69" width="99.19" height="24.301" fill="#84b2d4"/>
<rect x="635.36" y="2099.69" width="99.19" height="24.301" fill="#5281ba"/>
<rect x="734.54" y="2099.69" width="99.19" height="24.301" fill="#6494c4"/>
<rect x="833.73" y="2099.69" width="99.19" height="24.301" fill="#608fc2"/>
<rect x="932.92" y="2099.69" width="99.19" height="24.301" fill="#5b8abf"/>
<rect x="1032.11" y="2099.69" width="99.19" height="24.301" fill="#6494c4"/>
<rect x="31.10" y="2123.99" width="99.25" height="24.301" fill="#4575b4"/>
<rect x="130.35" y="2123.99" width="99.25" height="24.301" fill="#4575b4"/>
<rect x="238.60" y="2123.99" width="99.19" height="24.301" fill="#4575b4"/>
<rect x="337.79" y="2123.99" width="99.19" height="24.301" fill="#4575b4"/>
<rect x="436.98" y="2123.99" width="99.19" height="24.301" fill="#4d7db8"/>
<rect x="536.17" y="2123.99" width="99.19" height="24.301" fill="#4575b4"/>
<rect x="635.36" y="2123.99" width="99.19" height="24.301" fill="#4575b4"/>
<rect x="734.54" y="2123.99" width="99.19" height="24.301" fill="#4575b4"/>
<rect x="833.73" y="2123.99" width="99.19" height="24.301" fill="#4575b4"/>
<rect x="932.92" y="2123.99" width="99.19" height="24.301" fill="#4575b4"/>
<rect x="1032.11" y="2123.99" width="99.19" height="24.301" fill="#4575b4"/>
<rect x="31.10" y="2148.29" width="99.25" height="24.301" fill="#4575b4"/>
<rect x="130.35" y="2148.29" width="99.25" height="24.301" fill="#4575b4"/>
<rect x="238.60" y="2148.29" width="99.19" height="24.301" fill="#4575b4"/>
<rect x="337.79" y="2148.29" width="99.19" height="24.301" fill="#4575b4"/>
<rect x="436.98" y="2148.29" width="99.19" height="24.301" fill="#4575b4"/>
<rect x="536.17" y="2148.29" width="99.19" height="24.301" fill="#4575b4"/>
<rect x="635.36" y="2148.29" width="99.19" height="24.301" fill="#4575b4"/>
<rect x="734.54" y="2148.29" width="99.19" height="24.301" fill="#4575b4"/>
<rect x="833.73" y="2148.29" width="99.19" height="24.301" fill="#4575b4"/>
<rect x="932.92" y="2148.29" width="99.19" height="24.301" fill="#4575b4"/>
<rect x="1032.11" y="2148.29" width="99.19" height="24.301" fill="#4575b4"/>
<rect x="31.10" y="2172.59" width="99.25" height="24.301" fill="#4575b4"/>
<rect x="130.35" y="2172.59" width="99.25" height="24.301" fill="#4575b4"/>
<rect x="238.60" y="2172.59" width="99.19" height="24.301" fill="#4575b4"/>
<rect x="337.79" y="2172.59" width="99.19" height="24.301" fill="#4575b4"/>
<rect x="436.98" y="2172.59" width="99.19" height="24.301" fill="#4575b4"/>
<rect x="536.17" y="2172.59" width="99.19" height="24.301" fill="#4575b4"/>
<rect x="635.36" y="2172.59" width="99.19" height="24.301" fill="#4575b4"/>
<rect x="734.54" y="2172.59" width="99.19" height="24.301" fill="#4575b4"/>
<rect x="833.73" y="2172.59" width="99.19" height="24.301" fill="#4575b4"/>
<rect x="932.92" y="2172.59" width="99.19" height="24.301" fill="#4575b4"/>
<rect x="1032.11" y="2172.59" width="99.19" height="24.301" fill="#4575b4"/>
<rect x="31.10" y="2196.89" width="99.25" height="24.301" fill="#4575b4"/>
<rect x="130.35" y="2196.89" width="99.25" height="24.301" fill="#4575b4"/>
<rect x="238.60" y="2196.89" width="99.19" height="24.301" fill="#4575b4"/>
<rect x="337.79" y="2196.89" width="99.19" height="24.301" fill="#4575b4"/>
<rect x="436.98" y="2196.89" width="99.19" height="24.301" fill="#4575b4"/>
<rect x="536.17" y="2196.89" width="99.19" height="24.301" fill="#4575b4"/>
<rect x="635.36" y="2196.89" width="99.19" height="24.301" fill="#4575b4"/>
<rect x="734.54" y="2196.89" width="99.19" height="24.301" fill="#4575b4"/>
<rect x="833.73" y="2196.89" width="99.19" height="24.301" fill="#4575b4"/>
<rect x="932.92" y="2196.89" width="99.19" height="24.301" fill="#4575b4"/>
<rect x="1032.11" y="2196.89" width="99.19" height="24.301" fill="#4575b4"/>
<rect x="31.10" y="2221.19" width="99.25" height="24.301" fill="#c5e1ee"/>
<rect x="130.35" y="2221.19" width="99.25" height="24.301" fill="#74a3cc"/>
<rect x="238.60" y="2221.19" width="99.19" height="24.301" fill="#cde6f1"/>
<rect x="337.79" y="2221.19" width="99.19" height="24.301" fill="#94c1dc"/>
<rect x="436.98" y="2221.19" width="99.19" height="24.301" fill="#9cc6df"/>
<rect x="536.17" y="2221.19" width="99.19" height="24.301" fill="#9cc6df"/>
<rect x="635.36" y="2221.19" width="99.19" height="24.301" fill="#81afd3"/>
<rect x="734.54" y="2221.19" width="99.19" height="24.301" fill="#a4cce2"/>
<rect x="833.73" y="2221.19" width="99.19" height="24.301" fill="#c5e1ee"/>
<rect x="932.92" y="2221.19" width="99.19" height="24.301" fill="#a4cce2"/>
<rect x="1032.11" y="2221.19" width="99.19" height="24.301" fill="#b1d4e7"/>
<rect x="31.10" y="2245.49" width="99.25" height="24.301" fill="#5d8cc0"/>
<rect x="130.35" y="2245.49" width="99.25" height="24.301" fill="#5584bc"/>
<rect x="238.60" y="2245.49" width="99.19" height="24.301" fill="#4575b4"/>
<rect x="337.79" y="2245.49" width="99.19" height="24.301" fill="#4575b4"/>
<rect x="436.98" y="2245.49" width="99.19" height="24.301" fill="#4575b4"/>
<rect x="536.17" y="2245.49" width="99.19" height="24.301" fill="#4575b4"/>
<rect x="635.36" y="2245.49" width="99.19" height="24.301" fill="#4575b4"/>
<rect x="734.54" y="2245.49" width="99.19" height="24.301" fill="#4575b4"/>
<rect x="833.73" y="2245.49" width="99.19" height="24.301" fill="#4575b4"/>
<rect x="932.92" y="2245.49" width="99.19" height="24.301" fill="#4575b4"/>
<rect x="1032.11" y="2245.49" width="99.19" height="24.301" fill="#4575b4"/>
<rect x="31.10" y="2269.80" width="99.25" height="24.301" fill="#4575b4"/>
<rect x="130.35" y="2269.80" width="99.25" height="24.301" fill="#4575b4"/>
<rect x="238.60" y="2269.80" width="99.19" height="24.301" fill="#6c9bc8"/>
<rect x="337.79" y="2269.80" width="99.19" height="24.301" fill="#5d8cc0"/>
<rect x="436.98" y="2269.80" width="99.19" height="24.301" fill="#4575b4"/>
<rect x="536.17" y="2269.80" width="99.19" height="24.301" fill="#97c3dd"/>
<rect x="635.36" y="2269.80" width="99.19" height="24.301" fill="#c5e1ee"/>
<rect x="734.54" y="2269.80" width="99.19" height="24.301" fill="#4d7db8"/>
<rect x="833.73" y="2269.80" width="99.19" height="24.301" fill="#4a7ab6"/>
<rect x="932.92" y="2269.80" width="99.19" height="24.301" fill="#4a7ab6"/>
<rect x="1032.11" y="2269.80" width="99.19" height="24.301" fill="#4575b4"/>
<rect x="31.10" y="2294.10" width="99.25" height="24.301" fill="#4575b4"/>
<rect x="130.35" y="2294.10" width="99.25" height="24.301" fill="#4575b4"/>
<rect x="238.60" y="2294.10" width="99.19" height="24.301" fill="#4575b4"/>
<rect x="337.79" y="2294.10" width="99.19" height="24.301" fill="#4575b4"/>
<rect x="436.98" y="2294.10" width="99.19" height="24.301" fill="#4575b4"/>
<rect x="536.17" y="2294.10" width="99.19" height="24.301" fill="#4575b4"/>
<rect x="635.36" y="2294.10" width="99.19" height="24.301" fill="#4575b4"/>
<rect x="734.54" y="2294.10" width="99.19" height="24.301" fill="#4575b4"/>
<rect x="833.73" y="2294.10" width="99.19" height="24.301" fill="#4575b4"/>
<rect x="932.92" y="2294.10" width="99.19" height="24.301" fill="#4575b4"/>
<rect x="1032.11" y="2294.10" width="99.19" height="24.301" fill="#4575b4"/>
<rect x="31.10" y="2318.40" width="99.25" height="24.301" fill="#5887be"/>
<rect x="130.35" y="2318.40" width="99.25" height="24.301" fill="#4575b4"/>
<rect x="238.60" y="2318.40" width="99.19" height="24.301" fill="#4575b4"/>
<rect x="337.79" y="2318.40" width="99.19" height="24.301" fill="#4575b4"/>
<rect x="436.98" y="2318.40" width="99.19" height="24.301" fill="#4575b4"/>
<rect x="536.17" y="2318.40" width="99.19" height="24.301" fill="#4575b4"/>
<rect x="635.36" y="2318.40" width="99.19" height="24.301" fill="#4878b6"/>
<rect x="734.54" y="2318.40" width="99.19" height="24.301" fill="#4d7db8"/>
<rect x="833.73" y="2318.40" width="99.19" height="24.301" fill="#4e7eb9"/>
<rect x="932.92" y="2318.40" width="99.19" height="24.301" fill="#4575b4"/>
<rect x="1032.11" y="2318.40" width="99.19" height="24.301" fill="#4575b4"/>
<rect x="31.10" y="2342.70" width="99.25" height="24.301" fill="#4575b4"/>
<rect x="130.35" y="2342.70" width="99.25" height="24.301" fill="#4575b4"/>
<rect x="238.60" y="2342.70" width="99.19" height="24.301" fill="#4575b4"/>
<rect x="337.79" y="2342.70" width="99.19" height="24.301" fill="#4575b4"/>
<rect x="436.98" y="2342.70" width="99.19" height="24.301" fill="#4575b4"/>
<rect x="536.17" y="2342.70" width="99.19" height="24.301" fill="#4575b4"/>
<rect x="635.36" y="2342.70" width="99.19" height="24.301" fill="#4575b4"/>
<rect x="734.54" y="2342.70" width="99.19" height="24.301" fill="#4575b4"/>
<rect x="833.73" y="2342.70" width="99.19" height="24.301" fill="#4575b4"/>
<rect x="932.92" y="2342.70" width="99.19" height="24.301" fill="#4575b4"/>
<rect x="1032.11" y="2342.70" width="99.19" height="24.301" fill="#4575b4"/>
</g>
<g font-size="20" stroke="#000" stroke-width="0.3">
<text transform="translate(1138.3,53.35) scale(1.103,1)">BnaA01g22650D</text>
<text transform="translate(1138.3,77.65) scale(1.103,1)">BnaA02g31460D</text>
<text transform="translate(1138.3,101.95) scale(1.103,1)">BnaA02g31720D</text>
<text transform="translate(1138.3,126.25) scale(1.103,1)">BnaA03g28500D</text>
<text transform="translate(1138.3,150.55) scale(1.103,1)">BnaA03g29240D</text>
<text transform="translate(1138.3,174.86) scale(1.103,1)">BnaA04g09020D</text>
<text transform="translate(1138.3,199.16) scale(1.103,1)">BnaA04g11540D</text>
<text transform="translate(1138.3,223.46) scale(1.103,1)">BnaA06g05460D</text>
<text transform="translate(1138.3,247.76) scale(1.103,1)">BnaA06g39490D</text>
<text transform="translate(1138.3,272.06) scale(1.103,1)">BnaA07g14610D</text>
<text transform="translate(1138.3,296.36) scale(1.103,1)">BnaA07g37570D</text>
<text transform="translate(1138.3,320.66) scale(1.103,1)">BnaA08g26300D</text>
<text transform="translate(1138.3,344.96) scale(1.103,1)">BnaA08g30120D</text>
<text transform="translate(1138.3,369.26) scale(1.103,1)">BnaA09g04150D</text>
<text transform="translate(1138.3,393.57) scale(1.103,1)">BnaA09g39580D</text>
<text transform="translate(1138.3,417.87) scale(1.103,1)">BnaA09g48170D</text>
<text transform="translate(1138.3,442.17) scale(1.103,1)">BnaA09g48420D</text>
<text transform="translate(1138.3,466.47) scale(1.103,1)">BnaA10g00990D</text>
<text transform="translate(1138.3,490.77) scale(1.103,1)">BnaAnng02980D</text>
<text transform="translate(1138.3,515.07) scale(1.103,1)">BnaAnng02990D</text>
<text transform="translate(1138.3,539.37) scale(1.103,1)">BnaC02g40350D</text>
<text transform="translate(1138.3,563.67) scale(1.103,1)">BnaC03g34440D</text>
<text transform="translate(1138.3,587.97) scale(1.103,1)">BnaC03g48220D</text>
<text transform="translate(1138.3,612.27) scale(1.103,1)">BnaC04g31260D</text>
<text transform="translate(1138.3,636.58) scale(1.103,1)">BnaC04g34260D</text>
<text transform="translate(1138.3,660.88) scale(1.103,1)">BnaC04g34340D</text>
<text transform="translate(1138.3,685.18) scale(1.103,1)">BnaC05g01100D</text>
<text transform="translate(1138.3,709.48) scale(1.103,1)">BnaC05g45900D</text>
<text transform="translate(1138.3,733.78) scale(1.103,1)">BnaC06g13030D</text>
<text transform="translate(1138.3,758.08) scale(1.103,1)">BnaC07g28720D</text>
<text transform="translate(1138.3,782.38) scale(1.103,1)">BnaC08g09710D</text>
<text transform="translate(1138.3,806.68) scale(1.103,1)">BnaC08g09720D</text>
<text transform="translate(1138.3,830.98) scale(1.103,1)">BnaC08g13660D</text>
<text transform="translate(1138.3,855.28) scale(1.103,1)">BnaC08g31950D</text>
<text transform="translate(1138.3,879.59) scale(1.103,1)">BnaC08g42670D</text>
<text transform="translate(1138.3,903.89) scale(1.103,1)">BnaC08g47570D</text>
<text transform="translate(1138.3,928.19) scale(1.103,1)">BnaC09g03550D</text>
<text transform="translate(1138.3,952.49) scale(1.103,1)">BnaC09g16800D</text>
<text transform="translate(1138.3,976.79) scale(1.103,1)">BnaCnng19890D</text>
<text transform="translate(1138.3,1001.09) scale(1.103,1)">BnaCnng52940D</text>
<text transform="translate(1138.3,1025.39) scale(1.103,1)">BnaA01g31980D</text>
<text transform="translate(1138.3,1049.69) scale(1.103,1)">BnaA06g13160D</text>
<text transform="translate(1138.3,1073.99) scale(1.103,1)">BnaA07g22030D</text>
<text transform="translate(1138.3,1098.30) scale(1.103,1)">BnaA09g44390D</text>
<text transform="translate(1138.3,1122.60) scale(1.103,1)">BnaC01g38860D</text>
<text transform="translate(1138.3,1146.90) scale(1.103,1)">BnaC05g14660D</text>
<text transform="translate(1138.3,1171.20) scale(1.103,1)">BnaC06g22760D</text>
<text transform="translate(1138.3,1195.50) scale(1.103,1)">BnaC08g36940D</text>
<text transform="translate(1138.3,1219.80) scale(1.103,1)">BnaA02g03840D</text>
<text transform="translate(1138.3,1244.10) scale(1.103,1)">BnaA02g04960D</text>
<text transform="translate(1138.3,1268.40) scale(1.103,1)">BnaA02g04970D</text>
<text transform="translate(1138.3,1292.70) scale(1.103,1)">BnaA02g04990D</text>
<text transform="translate(1138.3,1317.00) scale(1.103,1)">BnaA03g40540D</text>
<text transform="translate(1138.3,1341.31) scale(1.103,1)">BnaA03g56080D</text>
<text transform="translate(1138.3,1365.61) scale(1.103,1)">BnaA06g02110D</text>
<text transform="translate(1138.3,1389.91) scale(1.103,1)">BnaA07g04700D</text>
<text transform="translate(1138.3,1414.21) scale(1.103,1)">BnaA07g23000D</text>
<text transform="translate(1138.3,1438.51) scale(1.103,1)">BnaA07g30320D</text>
<text transform="translate(1138.3,1462.81) scale(1.103,1)">BnaA10g14870D</text>
<text transform="translate(1138.3,1487.11) scale(1.103,1)">BnaC03g10190D</text>
<text transform="translate(1138.3,1511.41) scale(1.103,1)">BnaC06g24160D</text>
<text transform="translate(1138.3,1535.71) scale(1.103,1)">BnaC06g33770D</text>
<text transform="translate(1138.3,1560.02) scale(1.103,1)">BnaC07g31490D</text>
<text transform="translate(1138.3,1584.32) scale(1.103,1)">BnaC09g37240D</text>
<text transform="translate(1138.3,1608.62) scale(1.103,1)">BnaA01g24560D</text>
<text transform="translate(1138.3,1632.92) scale(1.103,1)">BnaA06g25170D</text>
<text transform="translate(1138.3,1657.22) scale(1.103,1)">BnaA07g13950D</text>
<text transform="translate(1138.3,1681.52) scale(1.103,1)">BnaA08g15380D</text>
<text transform="translate(1138.3,1705.82) scale(1.103,1)">BnaC03g48460D</text>
<text transform="translate(1138.3,1730.12) scale(1.103,1)">BnaC03g61870D</text>
<text transform="translate(1138.3,1754.42) scale(1.103,1)">BnaC04g15710D</text>
<text transform="translate(1138.3,1778.72) scale(1.103,1)">BnaC07g46180D</text>
<text transform="translate(1138.3,1803.03) scale(1.103,1)">BnaCnng28630D</text>
<text transform="translate(1138.3,1827.33) scale(1.103,1)">BnaA01g08350D</text>
<text transform="translate(1138.3,1851.63) scale(1.103,1)">BnaA02g22500D</text>
<text transform="translate(1138.3,1875.93) scale(1.103,1)">BnaA06g36310D</text>
<text transform="translate(1138.3,1900.23) scale(1.103,1)">BnaA08g13680D</text>
<text transform="translate(1138.3,1924.53) scale(1.103,1)">BnaA09g50780D</text>
<text transform="translate(1138.3,1948.83) scale(1.103,1)">BnaA10g02240D</text>
<text transform="translate(1138.3,1973.13) scale(1.103,1)">BnaC01g09900D</text>
<text transform="translate(1138.3,1997.43) scale(1.103,1)">BnaC05g02160D</text>
<text transform="translate(1138.3,2021.73) scale(1.103,1)">BnaC07g48660D</text>
<text transform="translate(1138.3,2046.04) scale(1.103,1)">BnaC08g43570D</text>
<text transform="translate(1138.3,2070.34) scale(1.103,1)">BnaC08g43590D</text>
<text transform="translate(1138.3,2094.64) scale(1.103,1)">BnaA06g04210D</text>
<text transform="translate(1138.3,2118.94) scale(1.103,1)">BnaA06g29170D</text>
<text transform="translate(1138.3,2143.24) scale(1.103,1)">BnaA07g14060D</text>
<text transform="translate(1138.3,2167.54) scale(1.103,1)">BnaA08g29100D</text>
<text transform="translate(1138.3,2191.84) scale(1.103,1)">BnaAnng37930D</text>
<text transform="translate(1138.3,2216.14) scale(1.103,1)">BnaC04g54760D</text>
<text transform="translate(1138.3,2240.44) scale(1.103,1)">BnaC05g05380D</text>
<text transform="translate(1138.3,2264.75) scale(1.103,1)">BnaC08g16160D</text>
<text transform="translate(1138.3,2289.05) scale(1.103,1)">BnaC08g18970D</text>
<text transform="translate(1138.3,2313.35) scale(1.103,1)">BnaCnng37680D</text>
<text transform="translate(1138.3,2337.65) scale(1.103,1)">BnaCnng38930D</text>
<text transform="translate(1138.3,2361.95) scale(1.103,1)">BnaCnng71440D</text>
</g>
<g font-size="26.4" stroke="#000" stroke-width="0.3">
<text transform="translate(72.72,2374.1) scale(1.053,1) rotate(90)">S. s_0hpi</text>
<text transform="translate(171.97,2374.1) scale(1.053,1) rotate(90)">S. s_24hpi</text>
<text transform="translate(280.19,2374.1) scale(1.053,1) rotate(90)">control</text>
<text transform="translate(378.68,2374.1) scale(1.053,1) rotate(90)">de_1h</text>
<text transform="translate(477.87,2374.1) scale(1.053,1) rotate(90)">de_8h</text>
<text transform="translate(577.06,2374.1) scale(1.053,1) rotate(90)">cold_4h</text>
<text transform="translate(676.25,2374.1) scale(1.053,1) rotate(90)">cold_24h</text>
<text transform="translate(775.44,2374.1) scale(1.053,1) rotate(90)">ABA_4h</text>
<text transform="translate(874.63,2374.1) scale(1.053,1) rotate(90)">ABA_24h</text>
<text transform="translate(973.82,2374.1) scale(1.053,1) rotate(90)">Nacl_4h</text>
<text transform="translate(1073.01,2374.1) scale(1.053,1) rotate(90)">Nacl_24h</text>
</g>
<defs><linearGradient id="lg" x1="0" y1="1" x2="0" y2="0"><stop offset="0.0000" stop-color="#4575B4"/><stop offset="0.1667" stop-color="#91BFDB"/><stop offset="0.3333" stop-color="#E0F3F8"/><stop offset="0.5000" stop-color="#FFFFBF"/><stop offset="0.6667" stop-color="#FEE090"/><stop offset="0.8333" stop-color="#FC8D59"/><stop offset="1.0000" stop-color="#D73027"/></linearGradient></defs>
<rect x="1323" y="3.2" width="22" height="330.0" fill="url(#lg)"/>
<g font-size="20" stroke="#000" stroke-width="0.3">
<text transform="translate(1354,341.00) scale(1.09,1)">0</text>
<text transform="translate(1354,284.80) scale(1.09,1)">0.5</text>
<text transform="translate(1354,228.60) scale(1.09,1)">1</text>
<text transform="translate(1354,172.40) scale(1.09,1)">1.5</text>
<text transform="translate(1354,116.20) scale(1.09,1)">2</text>
<text transform="translate(1354,60.00) scale(1.09,1)">2.5</text>
</g>
<text font-size="20" font-weight="bold" letter-spacing="0.9" transform="translate(1389.8,18.7) scale(1.09,1)">Stress</text>
<g stroke="#999999" stroke-width="0.8">
<rect x="1389.9" y="26.70" width="31.799999999999955" height="31.73" fill="#fdbcaf"/>
<rect x="1389.9" y="58.43" width="31.799999999999955" height="31.73" fill="#ebac00"/>
</g>
<g font-size="20" letter-spacing="0.15" stroke="#000" stroke-width="0.3">
<text transform="translate(1427.6,49.86) scale(1.09,1)">biotic_stress</text>
<text transform="translate(1427.6,81.59) scale(1.09,1)">abiotic_stress</text>
</g>
<text font-size="20" font-weight="bold" letter-spacing="1.15" transform="translate(1389.8,129.2) scale(1.09,1)">subfamily</text>
<g stroke="#999999" stroke-width="0.8">
<rect x="1389.9" y="137.40" width="31.799999999999955" height="31.73" fill="#3ea7ff"/>
<rect x="1389.9" y="169.13" width="31.799999999999955" height="31.73" fill="#8c8cfa"/>
<rect x="1389.9" y="200.86" width="31.799999999999955" height="31.73" fill="#70f57d"/>
<rect x="1389.9" y="232.59" width="31.799999999999955" height="31.73" fill="#a0ced3"/>
<rect x="1389.9" y="264.32" width="31.799999999999955" height="31.73" fill="#58bb7a"/>
<rect x="1389.9" y="296.05" width="31.799999999999955" height="31.73" fill="#8ca889"/>
</g>
<g font-size="20" letter-spacing="1.1" stroke="#000" stroke-width="0.3">
<text transform="translate(1428.2,160.87) scale(1.09,1)">subfamily_<tspan letter-spacing="0">I</tspan></text>
<text transform="translate(1428.2,192.59) scale(1.09,1)">subfamily_<tspan letter-spacing="0">II</tspan></text>
<text transform="translate(1428.2,224.33) scale(1.09,1)">subfamily_<tspan letter-spacing="0">III</tspan></text>
<text transform="translate(1428.2,256.06) scale(1.09,1)">subfamily_<tspan letter-spacing="0">IV</tspan></text>
<text transform="translate(1428.2,287.79) scale(1.09,1)">subfamily_<tspan letter-spacing="0">V</tspan></text>
<text transform="translate(1428.2,319.52) scale(1.09,1)">subfamily_<tspan letter-spacing="0">VI</tspan></text>
</g>
</svg>
</body></html>
